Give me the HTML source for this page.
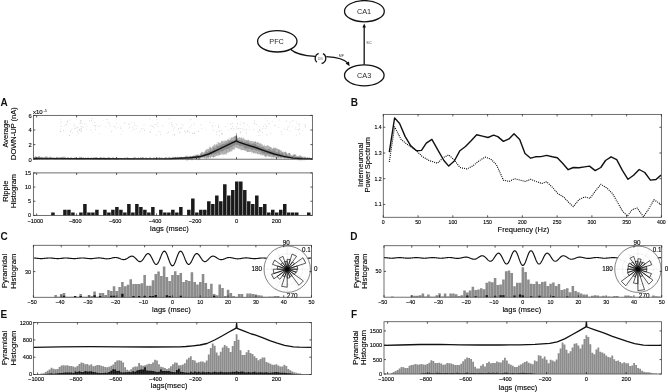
<!DOCTYPE html>
<html><head><meta charset="utf-8"><title>figure</title>
<style>html,body{margin:0;padding:0;background:#fff;width:668px;height:392px;overflow:hidden}svg{display:block;will-change:transform}text{stroke:#000;stroke-width:0.12px}</style>
</head><body>
<svg width="668" height="392" viewBox="0 0 668 392" font-family='"Liberation Sans", sans-serif'>
<rect width="668" height="392" fill="#fff"/>
<g fill="none" stroke="#111" stroke-width="1.3">
<ellipse cx="277.3" cy="41.3" rx="19.7" ry="10.7"/>
<ellipse cx="364.4" cy="11.2" rx="19.9" ry="10.6"/>
<ellipse cx="364.3" cy="75.3" rx="19.8" ry="10.5"/>
<path d="M290.5 49.2 C295 53.5 305 55.8 315.2 56.4"/>
<path d="M318.6 53.4 A5.3 5.3 0 0 0 316.8 62.3"/>
<path d="M322.9 53.6 A5.3 5.3 0 0 1 321.6 63.5"/>
<path d="M326.3 56.6 C336 57.2 344 58.5 348 63.2"/>
<path d="M364.2 64.8 V26.5"/>
</g>
<path d="M364.2 23.6 L362.4 27.6 L366 27.6 Z" fill="#111"/>
<path d="M349.6 66.2 L345.6 63.6 L349.0 61.6 Z" fill="#111"/>
<text x="276.6" y="43.6" font-size="7.3" text-anchor="middle" style="stroke:none" fill="#2a2a2a">PFC</text>
<text x="364.1" y="13.9" font-size="7.3" text-anchor="middle" style="stroke:none" fill="#2a2a2a">CA1</text>
<text x="364.2" y="77.6" font-size="7.3" text-anchor="middle" style="stroke:none" fill="#2a2a2a">CA3</text>
<text x="369" y="44.2" font-size="3.8" text-anchor="middle" style="stroke:none" fill="#444">SC</text>
<text x="341.4" y="57.4" font-size="3.6" text-anchor="middle" style="stroke:none" fill="#444">MF</text>
<text x="320.4" y="59.6" font-size="3.2" text-anchor="middle" style="stroke:none" fill="#555">DG</text>
<text x="0.4" y="106" font-size="10" text-anchor="start" font-weight="bold" style="stroke:none" fill="#111">A</text>
<text x="350.8" y="106.4" font-size="10" text-anchor="start" font-weight="bold" style="stroke:none" fill="#111">B</text>
<text x="0.4" y="240" font-size="10" text-anchor="start" font-weight="bold" style="stroke:none" fill="#111">C</text>
<text x="350.2" y="240.2" font-size="10" text-anchor="start" font-weight="bold" style="stroke:none" fill="#111">D</text>
<text x="0.6" y="318.4" font-size="10" text-anchor="start" font-weight="bold" style="stroke:none" fill="#111">E</text>
<text x="350.9" y="318.3" font-size="10" text-anchor="start" font-weight="bold" style="stroke:none" fill="#111">F</text>
<g>
<rect x="139.66" y="130.81" width="0.8" height="0.8" fill="rgb(192,192,192)"/>
<rect x="262.03" y="132.3" width="0.8" height="0.8" fill="rgb(194,194,194)"/>
<rect x="149.96" y="132" width="0.8" height="0.8" fill="rgb(190,190,190)"/>
<rect x="81.14" y="128.91" width="0.8" height="0.8" fill="rgb(214,214,214)"/>
<rect x="77.18" y="130.98" width="0.8" height="0.8" fill="rgb(224,224,224)"/>
<rect x="90.46" y="129.55" width="0.8" height="0.8" fill="rgb(202,202,202)"/>
<rect x="215.13" y="125.61" width="0.8" height="0.8" fill="rgb(225,225,225)"/>
<rect x="157.58" y="126.2" width="0.8" height="0.8" fill="rgb(202,202,202)"/>
<rect x="71.46" y="129.34" width="0.8" height="0.8" fill="rgb(197,197,197)"/>
<rect x="193.01" y="124.11" width="0.8" height="0.8" fill="rgb(224,224,224)"/>
<rect x="135.89" y="128.15" width="0.8" height="0.8" fill="rgb(225,225,225)"/>
<rect x="200.52" y="124.4" width="0.8" height="0.8" fill="rgb(200,200,200)"/>
<rect x="151.61" y="125.45" width="0.8" height="0.8" fill="rgb(191,191,191)"/>
<rect x="212.28" y="126.52" width="0.8" height="0.8" fill="rgb(219,219,219)"/>
<rect x="227.38" y="123.49" width="0.8" height="0.8" fill="rgb(225,225,225)"/>
<rect x="287.17" y="128.72" width="0.8" height="0.8" fill="rgb(211,211,211)"/>
<rect x="133.74" y="128.92" width="0.8" height="0.8" fill="rgb(203,203,203)"/>
<rect x="80.14" y="120.3" width="0.8" height="0.8" fill="rgb(207,207,207)"/>
<rect x="189.2" y="132.15" width="0.8" height="0.8" fill="rgb(206,206,206)"/>
<rect x="209.8" y="121.86" width="0.8" height="0.8" fill="rgb(192,192,192)"/>
<rect x="89.04" y="120.41" width="0.8" height="0.8" fill="rgb(197,197,197)"/>
<rect x="289.58" y="130.73" width="0.8" height="0.8" fill="rgb(214,214,214)"/>
<rect x="69.64" y="123.24" width="0.8" height="0.8" fill="rgb(224,224,224)"/>
<rect x="254.12" y="120.33" width="0.8" height="0.8" fill="rgb(208,208,208)"/>
<rect x="143.67" y="123.9" width="0.8" height="0.8" fill="rgb(217,217,217)"/>
<rect x="76.92" y="131.26" width="0.8" height="0.8" fill="rgb(193,193,193)"/>
<rect x="292.39" y="120.44" width="0.8" height="0.8" fill="rgb(191,191,191)"/>
<rect x="239.87" y="128.08" width="0.8" height="0.8" fill="rgb(207,207,207)"/>
<rect x="219.19" y="135.35" width="0.8" height="0.8" fill="rgb(206,206,206)"/>
<rect x="236.29" y="126.64" width="0.8" height="0.8" fill="rgb(210,210,210)"/>
<rect x="65.55" y="124.35" width="0.8" height="0.8" fill="rgb(195,195,195)"/>
<rect x="181.45" y="127.65" width="0.8" height="0.8" fill="rgb(201,201,201)"/>
<rect x="248.99" y="129.33" width="0.8" height="0.8" fill="rgb(213,213,213)"/>
<rect x="285.54" y="129.46" width="0.8" height="0.8" fill="rgb(219,219,219)"/>
<rect x="79.82" y="121.6" width="0.8" height="0.8" fill="rgb(196,196,196)"/>
<rect x="261.54" y="128.78" width="0.8" height="0.8" fill="rgb(223,223,223)"/>
<rect x="128.49" y="123.34" width="0.8" height="0.8" fill="rgb(212,212,212)"/>
<rect x="295.6" y="129.15" width="0.8" height="0.8" fill="rgb(197,197,197)"/>
<rect x="80.41" y="130.83" width="0.8" height="0.8" fill="rgb(188,188,188)"/>
<rect x="179.3" y="132.37" width="0.8" height="0.8" fill="rgb(225,225,225)"/>
<rect x="104.86" y="126.5" width="0.8" height="0.8" fill="rgb(222,222,222)"/>
<rect x="150.84" y="129.47" width="0.8" height="0.8" fill="rgb(224,224,224)"/>
<rect x="138.38" y="133.28" width="0.8" height="0.8" fill="rgb(227,227,227)"/>
<rect x="221.12" y="133.32" width="0.8" height="0.8" fill="rgb(191,191,191)"/>
<rect x="172.33" y="134.64" width="0.8" height="0.8" fill="rgb(223,223,223)"/>
<rect x="156.53" y="118.97" width="0.8" height="0.8" fill="rgb(213,213,213)"/>
<rect x="156.95" y="122.48" width="0.8" height="0.8" fill="rgb(200,200,200)"/>
<rect x="76.57" y="127.53" width="0.8" height="0.8" fill="rgb(201,201,201)"/>
<rect x="168.39" y="131.7" width="0.8" height="0.8" fill="rgb(194,194,194)"/>
<rect x="60.06" y="130.88" width="0.8" height="0.8" fill="rgb(197,197,197)"/>
<rect x="192.01" y="132.89" width="0.8" height="0.8" fill="rgb(192,192,192)"/>
<rect x="275.09" y="125.04" width="0.8" height="0.8" fill="rgb(227,227,227)"/>
<rect x="152.55" y="119.55" width="0.8" height="0.8" fill="rgb(226,226,226)"/>
<rect x="149.58" y="118.61" width="0.8" height="0.8" fill="rgb(195,195,195)"/>
<rect x="178.18" y="127.93" width="0.8" height="0.8" fill="rgb(207,207,207)"/>
<rect x="81.13" y="130.3" width="0.8" height="0.8" fill="rgb(204,204,204)"/>
<rect x="177.74" y="129.47" width="0.8" height="0.8" fill="rgb(198,198,198)"/>
<rect x="187.02" y="130.08" width="0.8" height="0.8" fill="rgb(211,211,211)"/>
<rect x="193.62" y="132.44" width="0.8" height="0.8" fill="rgb(193,193,193)"/>
<rect x="231.26" y="127.93" width="0.8" height="0.8" fill="rgb(204,204,204)"/>
<rect x="187.53" y="130.54" width="0.8" height="0.8" fill="rgb(202,202,202)"/>
<rect x="191.02" y="124.7" width="0.8" height="0.8" fill="rgb(220,220,220)"/>
<rect x="141.1" y="128.39" width="0.8" height="0.8" fill="rgb(200,200,200)"/>
<rect x="258.3" y="135.1" width="0.8" height="0.8" fill="rgb(213,213,213)"/>
<rect x="242.01" y="127.79" width="0.8" height="0.8" fill="rgb(210,210,210)"/>
<rect x="239.83" y="132.38" width="0.8" height="0.8" fill="rgb(189,189,189)"/>
<rect x="254.37" y="124.09" width="0.8" height="0.8" fill="rgb(226,226,226)"/>
<rect x="295.3" y="127.51" width="0.8" height="0.8" fill="rgb(216,216,216)"/>
<rect x="258.91" y="126.3" width="0.8" height="0.8" fill="rgb(211,211,211)"/>
<rect x="79.81" y="122.89" width="0.8" height="0.8" fill="rgb(194,194,194)"/>
<rect x="115.8" y="128" width="0.8" height="0.8" fill="rgb(227,227,227)"/>
<rect x="302.37" y="129.87" width="0.8" height="0.8" fill="rgb(227,227,227)"/>
<rect x="266.75" y="120.51" width="0.8" height="0.8" fill="rgb(193,193,193)"/>
<rect x="265.32" y="127.84" width="0.8" height="0.8" fill="rgb(195,195,195)"/>
<rect x="283.81" y="128.51" width="0.8" height="0.8" fill="rgb(218,218,218)"/>
<rect x="278.7" y="119.66" width="0.8" height="0.8" fill="rgb(215,215,215)"/>
<rect x="254.13" y="122.99" width="0.8" height="0.8" fill="rgb(213,213,213)"/>
<rect x="173.94" y="134.02" width="0.8" height="0.8" fill="rgb(193,193,193)"/>
<rect x="238.3" y="128.13" width="0.8" height="0.8" fill="rgb(197,197,197)"/>
<rect x="205.34" y="129.06" width="0.8" height="0.8" fill="rgb(217,217,217)"/>
<rect x="258.4" y="132.11" width="0.8" height="0.8" fill="rgb(218,218,218)"/>
<rect x="221.69" y="133.69" width="0.8" height="0.8" fill="rgb(210,210,210)"/>
<rect x="98.35" y="126.11" width="0.8" height="0.8" fill="rgb(194,194,194)"/>
<rect x="189.54" y="126.72" width="0.8" height="0.8" fill="rgb(196,196,196)"/>
<rect x="166.72" y="132.83" width="0.8" height="0.8" fill="rgb(201,201,201)"/>
<rect x="66.89" y="120.93" width="0.8" height="0.8" fill="rgb(201,201,201)"/>
<rect x="132.07" y="127.36" width="0.8" height="0.8" fill="rgb(204,204,204)"/>
<rect x="193.91" y="132.97" width="0.8" height="0.8" fill="rgb(196,196,196)"/>
<rect x="74.98" y="126.39" width="0.8" height="0.8" fill="rgb(225,225,225)"/>
<rect x="187.12" y="131.3" width="0.8" height="0.8" fill="rgb(196,196,196)"/>
<rect x="190.83" y="118.83" width="0.8" height="0.8" fill="rgb(221,221,221)"/>
<rect x="185.59" y="132.43" width="0.8" height="0.8" fill="rgb(226,226,226)"/>
<rect x="60.97" y="121.42" width="0.8" height="0.8" fill="rgb(197,197,197)"/>
<rect x="102.4" y="119.87" width="0.8" height="0.8" fill="rgb(223,223,223)"/>
<rect x="75.19" y="128.2" width="0.8" height="0.8" fill="rgb(221,221,221)"/>
<rect x="190.56" y="119.26" width="0.8" height="0.8" fill="rgb(223,223,223)"/>
<rect x="73.98" y="127.86" width="0.8" height="0.8" fill="rgb(200,200,200)"/>
<rect x="128.12" y="127.75" width="0.8" height="0.8" fill="rgb(223,223,223)"/>
<rect x="66.85" y="121.69" width="0.8" height="0.8" fill="rgb(192,192,192)"/>
<rect x="169.04" y="122.94" width="0.8" height="0.8" fill="rgb(220,220,220)"/>
<rect x="109.05" y="123.53" width="0.8" height="0.8" fill="rgb(205,205,205)"/>
<rect x="171.28" y="121.98" width="0.8" height="0.8" fill="rgb(203,203,203)"/>
<rect x="232.01" y="125.93" width="0.8" height="0.8" fill="rgb(204,204,204)"/>
<rect x="287" y="129.37" width="0.8" height="0.8" fill="rgb(216,216,216)"/>
<rect x="93.74" y="125.11" width="0.8" height="0.8" fill="rgb(195,195,195)"/>
<rect x="156.52" y="124.3" width="0.8" height="0.8" fill="rgb(215,215,215)"/>
<rect x="77.99" y="133.14" width="0.8" height="0.8" fill="rgb(207,207,207)"/>
<rect x="252.85" y="129.08" width="0.8" height="0.8" fill="rgb(211,211,211)"/>
<rect x="95.17" y="125.43" width="0.8" height="0.8" fill="rgb(196,196,196)"/>
<rect x="298.02" y="129.11" width="0.8" height="0.8" fill="rgb(213,213,213)"/>
<rect x="100.05" y="125.42" width="0.8" height="0.8" fill="rgb(215,215,215)"/>
<rect x="304.54" y="124.21" width="0.8" height="0.8" fill="rgb(213,213,213)"/>
<rect x="143.42" y="128.32" width="0.8" height="0.8" fill="rgb(211,211,211)"/>
<rect x="64.79" y="130.71" width="0.8" height="0.8" fill="rgb(223,223,223)"/>
<rect x="172.83" y="125.71" width="0.8" height="0.8" fill="rgb(221,221,221)"/>
<rect x="213.49" y="122.76" width="0.8" height="0.8" fill="rgb(220,220,220)"/>
<rect x="296.35" y="134.65" width="0.8" height="0.8" fill="rgb(202,202,202)"/>
<rect x="299.04" y="133.56" width="0.8" height="0.8" fill="rgb(194,194,194)"/>
<rect x="80.68" y="125.66" width="0.8" height="0.8" fill="rgb(199,199,199)"/>
<rect x="91.87" y="118.25" width="0.8" height="0.8" fill="rgb(204,204,204)"/>
<rect x="159.86" y="131.65" width="0.8" height="0.8" fill="rgb(222,222,222)"/>
<rect x="286.12" y="120.69" width="0.8" height="0.8" fill="rgb(193,193,193)"/>
<rect x="128.65" y="124" width="0.8" height="0.8" fill="rgb(199,199,199)"/>
<rect x="216.07" y="131.67" width="0.8" height="0.8" fill="rgb(204,204,204)"/>
<rect x="80.6" y="128.03" width="0.8" height="0.8" fill="rgb(195,195,195)"/>
<rect x="171.63" y="125.69" width="0.8" height="0.8" fill="rgb(209,209,209)"/>
<rect x="304.6" y="118.3" width="0.8" height="0.8" fill="rgb(227,227,227)"/>
<rect x="91.79" y="131.94" width="0.8" height="0.8" fill="rgb(221,221,221)"/>
<rect x="124.43" y="122.5" width="0.8" height="0.8" fill="rgb(199,199,199)"/>
<rect x="109.63" y="125.54" width="0.8" height="0.8" fill="rgb(201,201,201)"/>
<rect x="131.33" y="130.55" width="0.8" height="0.8" fill="rgb(220,220,220)"/>
<rect x="225.35" y="125.96" width="0.8" height="0.8" fill="rgb(204,204,204)"/>
<rect x="69.09" y="135.05" width="0.8" height="0.8" fill="rgb(189,189,189)"/>
<rect x="240.34" y="124.23" width="0.8" height="0.8" fill="rgb(218,218,218)"/>
<rect x="120.44" y="126.08" width="0.8" height="0.8" fill="rgb(216,216,216)"/>
<rect x="86.15" y="129.01" width="0.8" height="0.8" fill="rgb(219,219,219)"/>
<rect x="194.29" y="122.65" width="0.8" height="0.8" fill="rgb(213,213,213)"/>
<rect x="298.7" y="125.89" width="0.8" height="0.8" fill="rgb(202,202,202)"/>
<rect x="144.31" y="129.93" width="0.8" height="0.8" fill="rgb(228,228,228)"/>
<rect x="265.9" y="126.15" width="0.8" height="0.8" fill="rgb(188,188,188)"/>
<rect x="77.4" y="126.8" width="0.8" height="0.8" fill="rgb(198,198,198)"/>
<rect x="73.63" y="123.55" width="0.8" height="0.8" fill="rgb(212,212,212)"/>
<rect x="274.15" y="125.25" width="0.8" height="0.8" fill="rgb(203,203,203)"/>
<rect x="230.4" y="123.78" width="0.8" height="0.8" fill="rgb(190,190,190)"/>
<rect x="173.03" y="129.68" width="0.8" height="0.8" fill="rgb(204,204,204)"/>
<rect x="149.58" y="131.09" width="0.8" height="0.8" fill="rgb(209,209,209)"/>
<rect x="299.27" y="123.78" width="0.8" height="0.8" fill="rgb(207,207,207)"/>
<rect x="113.6" y="126.02" width="0.8" height="0.8" fill="rgb(199,199,199)"/>
<rect x="60.26" y="123.24" width="0.8" height="0.8" fill="rgb(220,220,220)"/>
<rect x="221.38" y="130.46" width="0.8" height="0.8" fill="rgb(203,203,203)"/>
<rect x="184.16" y="130.52" width="0.8" height="0.8" fill="rgb(193,193,193)"/>
<rect x="95.39" y="127.11" width="0.8" height="0.8" fill="rgb(225,225,225)"/>
<rect x="70.25" y="130.79" width="0.8" height="0.8" fill="rgb(202,202,202)"/>
<rect x="80.78" y="127.54" width="0.8" height="0.8" fill="rgb(221,221,221)"/>
<rect x="269.9" y="132.33" width="0.8" height="0.8" fill="rgb(226,226,226)"/>
<rect x="155.82" y="134.87" width="0.8" height="0.8" fill="rgb(208,208,208)"/>
<rect x="237.29" y="123.32" width="0.8" height="0.8" fill="rgb(227,227,227)"/>
<rect x="218.23" y="127.13" width="0.8" height="0.8" fill="rgb(190,190,190)"/>
<rect x="262.91" y="125.82" width="0.8" height="0.8" fill="rgb(215,215,215)"/>
<rect x="240.53" y="121.73" width="0.8" height="0.8" fill="rgb(220,220,220)"/>
<rect x="94.27" y="121.73" width="0.8" height="0.8" fill="rgb(189,189,189)"/>
<rect x="263.3" y="126.21" width="0.8" height="0.8" fill="rgb(225,225,225)"/>
<rect x="256.3" y="124.28" width="0.8" height="0.8" fill="rgb(202,202,202)"/>
<rect x="70.3" y="119.58" width="0.8" height="0.8" fill="rgb(212,212,212)"/>
<rect x="265.61" y="118.35" width="0.8" height="0.8" fill="rgb(223,223,223)"/>
<rect x="72.49" y="132.5" width="0.8" height="0.8" fill="rgb(203,203,203)"/>
<rect x="180.37" y="127.65" width="0.8" height="0.8" fill="rgb(188,188,188)"/>
<rect x="280.87" y="131.46" width="0.8" height="0.8" fill="rgb(193,193,193)"/>
<rect x="222.19" y="133.73" width="0.8" height="0.8" fill="rgb(204,204,204)"/>
<rect x="259.07" y="129.96" width="0.8" height="0.8" fill="rgb(204,204,204)"/>
<rect x="117.76" y="127.13" width="0.8" height="0.8" fill="rgb(217,217,217)"/>
<rect x="181.51" y="123.74" width="0.8" height="0.8" fill="rgb(212,212,212)"/>
<rect x="78.88" y="130.13" width="0.8" height="0.8" fill="rgb(190,190,190)"/>
<rect x="211.78" y="125.02" width="0.8" height="0.8" fill="rgb(200,200,200)"/>
<rect x="79.06" y="129.07" width="0.8" height="0.8" fill="rgb(207,207,207)"/>
<rect x="212.8" y="129.75" width="0.8" height="0.8" fill="rgb(196,196,196)"/>
<rect x="63.07" y="130.31" width="0.8" height="0.8" fill="rgb(194,194,194)"/>
<rect x="230.28" y="128.32" width="0.8" height="0.8" fill="rgb(219,219,219)"/>
<rect x="131.55" y="122" width="0.8" height="0.8" fill="rgb(217,217,217)"/>
<rect x="248.72" y="126.48" width="0.8" height="0.8" fill="rgb(223,223,223)"/>
<rect x="64.31" y="125.55" width="0.8" height="0.8" fill="rgb(217,217,217)"/>
<rect x="304.52" y="126.4" width="0.8" height="0.8" fill="rgb(212,212,212)"/>
<rect x="111.62" y="129.92" width="0.8" height="0.8" fill="rgb(225,225,225)"/>
<rect x="82.21" y="125.96" width="0.8" height="0.8" fill="rgb(221,221,221)"/>
<rect x="124.41" y="123.11" width="0.8" height="0.8" fill="rgb(228,228,228)"/>
<rect x="185.15" y="131.73" width="0.8" height="0.8" fill="rgb(195,195,195)"/>
<rect x="233.02" y="128.12" width="0.8" height="0.8" fill="rgb(219,219,219)"/>
<rect x="99.13" y="133.47" width="0.8" height="0.8" fill="rgb(213,213,213)"/>
<rect x="134.28" y="124.89" width="0.8" height="0.8" fill="rgb(197,197,197)"/>
<rect x="162.38" y="125.37" width="0.8" height="0.8" fill="rgb(209,209,209)"/>
<rect x="60.43" y="128.6" width="0.8" height="0.8" fill="rgb(209,209,209)"/>
<rect x="266.42" y="134.49" width="0.8" height="0.8" fill="rgb(188,188,188)"/>
<rect x="281.79" y="134.04" width="0.8" height="0.8" fill="rgb(206,206,206)"/>
<rect x="122.29" y="131.11" width="0.8" height="0.8" fill="rgb(225,225,225)"/>
<rect x="78.79" y="128.78" width="0.8" height="0.8" fill="rgb(215,215,215)"/>
<rect x="245.89" y="129.23" width="0.8" height="0.8" fill="rgb(191,191,191)"/>
<rect x="265.33" y="124.1" width="0.8" height="0.8" fill="rgb(206,206,206)"/>
<rect x="216.2" y="134.11" width="0.8" height="0.8" fill="rgb(215,215,215)"/>
<rect x="106.7" y="119.13" width="0.8" height="0.8" fill="rgb(189,189,189)"/>
<rect x="259.74" y="135.04" width="0.8" height="0.8" fill="rgb(228,228,228)"/>
<rect x="158.41" y="131.06" width="0.8" height="0.8" fill="rgb(201,201,201)"/>
<rect x="237.01" y="122.97" width="0.8" height="0.8" fill="rgb(191,191,191)"/>
<rect x="289.63" y="121.73" width="0.8" height="0.8" fill="rgb(196,196,196)"/>
<rect x="218.54" y="130.3" width="0.8" height="0.8" fill="rgb(206,206,206)"/>
<rect x="179.45" y="131.84" width="0.8" height="0.8" fill="rgb(198,198,198)"/>
<rect x="176.16" y="124.01" width="0.8" height="0.8" fill="rgb(209,209,209)"/>
<rect x="129.31" y="126.73" width="0.8" height="0.8" fill="rgb(204,204,204)"/>
<rect x="159.93" y="134.37" width="0.8" height="0.8" fill="rgb(203,203,203)"/>
<rect x="134.01" y="122.78" width="0.8" height="0.8" fill="rgb(198,198,198)"/>
<rect x="218.23" y="125.41" width="0.8" height="0.8" fill="rgb(192,192,192)"/>
<rect x="111.14" y="131.38" width="0.8" height="0.8" fill="rgb(202,202,202)"/>
<rect x="171.43" y="124.06" width="0.8" height="0.8" fill="rgb(209,209,209)"/>
<rect x="305.13" y="124.65" width="0.8" height="0.8" fill="rgb(200,200,200)"/>
<rect x="120.05" y="127.76" width="0.8" height="0.8" fill="rgb(199,199,199)"/>
<rect x="144.12" y="129.8" width="0.8" height="0.8" fill="rgb(204,204,204)"/>
<rect x="259.1" y="128.8" width="0.8" height="0.8" fill="rgb(200,200,200)"/>
<rect x="278.26" y="126.99" width="0.8" height="0.8" fill="rgb(214,214,214)"/>
<rect x="243.48" y="122.36" width="0.8" height="0.8" fill="rgb(201,201,201)"/>
<rect x="152.71" y="126.15" width="0.8" height="0.8" fill="rgb(205,205,205)"/>
<rect x="201.27" y="128.37" width="0.8" height="0.8" fill="rgb(211,211,211)"/>
<rect x="90.96" y="120.66" width="0.8" height="0.8" fill="rgb(201,201,201)"/>
<rect x="82.78" y="126.86" width="0.8" height="0.8" fill="rgb(203,203,203)"/>
<rect x="154.6" y="124.09" width="0.8" height="0.8" fill="rgb(207,207,207)"/>
<rect x="268.78" y="123.2" width="0.8" height="0.8" fill="rgb(189,189,189)"/>
<rect x="91.3" y="120.19" width="0.8" height="0.8" fill="rgb(218,218,218)"/>
<rect x="298.2" y="130.46" width="0.8" height="0.8" fill="rgb(219,219,219)"/>
<rect x="60.04" y="119.01" width="0.8" height="0.8" fill="rgb(221,221,221)"/>
<rect x="270.44" y="133.48" width="0.8" height="0.8" fill="rgb(216,216,216)"/>
<rect x="121.12" y="129.02" width="0.8" height="0.8" fill="rgb(221,221,221)"/>
<rect x="299.08" y="128.65" width="0.8" height="0.8" fill="rgb(194,194,194)"/>
<rect x="291.61" y="125.85" width="0.8" height="0.8" fill="rgb(217,217,217)"/>
<rect x="80.91" y="120.61" width="0.8" height="0.8" fill="rgb(190,190,190)"/>
<rect x="60.34" y="131.11" width="0.8" height="0.8" fill="rgb(190,190,190)"/>
<rect x="218.79" y="131.15" width="0.8" height="0.8" fill="rgb(207,207,207)"/>
<rect x="296.76" y="123.14" width="0.8" height="0.8" fill="rgb(215,215,215)"/>
<rect x="231.85" y="123.06" width="0.8" height="0.8" fill="rgb(195,195,195)"/>
<rect x="84.46" y="123.64" width="0.8" height="0.8" fill="rgb(200,200,200)"/>
<rect x="115" y="126.47" width="0.8" height="0.8" fill="rgb(207,207,207)"/>
<rect x="305.11" y="126.61" width="0.8" height="0.8" fill="rgb(205,205,205)"/>
<rect x="295.9" y="121.26" width="0.8" height="0.8" fill="rgb(218,218,218)"/>
<rect x="189.46" y="119.64" width="0.8" height="0.8" fill="rgb(223,223,223)"/>
<rect x="120.78" y="133.81" width="0.8" height="0.8" fill="rgb(207,207,207)"/>
<rect x="73.61" y="125.28" width="0.8" height="0.8" fill="rgb(200,200,200)"/>
<rect x="182.58" y="124.85" width="0.8" height="0.8" fill="rgb(204,204,204)"/>
<rect x="116.05" y="122.82" width="0.8" height="0.8" fill="rgb(215,215,215)"/>
<rect x="287.59" y="127.17" width="0.8" height="0.8" fill="rgb(209,209,209)"/>
<rect x="236.71" y="128.17" width="0.8" height="0.8" fill="rgb(211,211,211)"/>
<rect x="227.91" y="129.58" width="0.8" height="0.8" fill="rgb(220,220,220)"/>
<rect x="76.59" y="134.61" width="0.8" height="0.8" fill="rgb(219,219,219)"/>
<rect x="298.59" y="123.85" width="0.8" height="0.8" fill="rgb(202,202,202)"/>
<rect x="174.42" y="134.71" width="0.8" height="0.8" fill="rgb(204,204,204)"/>
<rect x="247.08" y="123.91" width="0.8" height="0.8" fill="rgb(219,219,219)"/>
<rect x="73.88" y="127.93" width="0.8" height="0.8" fill="rgb(226,226,226)"/>
<rect x="96.01" y="124.56" width="0.8" height="0.8" fill="rgb(226,226,226)"/>
<rect x="94.91" y="128.93" width="0.8" height="0.8" fill="rgb(191,191,191)"/>
<rect x="234.63" y="128.98" width="0.8" height="0.8" fill="rgb(208,208,208)"/>
<rect x="240.25" y="131.5" width="0.8" height="0.8" fill="rgb(193,193,193)"/>
<rect x="289.17" y="125.62" width="0.8" height="0.8" fill="rgb(221,221,221)"/>
<rect x="243.59" y="129.53" width="0.8" height="0.8" fill="rgb(190,190,190)"/>
<rect x="136.71" y="125.67" width="0.8" height="0.8" fill="rgb(209,209,209)"/>
<rect x="168.84" y="118.5" width="0.8" height="0.8" fill="rgb(194,194,194)"/>
<rect x="60.71" y="126.22" width="0.8" height="0.8" fill="rgb(195,195,195)"/>
<rect x="198.04" y="131.11" width="0.8" height="0.8" fill="rgb(201,201,201)"/>
<rect x="153.51" y="127.45" width="0.8" height="0.8" fill="rgb(215,215,215)"/>
<rect x="81.59" y="123.16" width="0.8" height="0.8" fill="rgb(218,218,218)"/>
<rect x="108.15" y="122.27" width="0.8" height="0.8" fill="rgb(208,208,208)"/>
<rect x="149.61" y="125.74" width="0.8" height="0.8" fill="rgb(218,218,218)"/>
<rect x="67.45" y="120.03" width="0.8" height="0.8" fill="rgb(213,213,213)"/>
<rect x="70" y="131.37" width="0.8" height="0.8" fill="rgb(190,190,190)"/>
<rect x="174.16" y="127.53" width="0.8" height="0.8" fill="rgb(200,200,200)"/>
<rect x="243.83" y="125.48" width="0.8" height="0.8" fill="rgb(226,226,226)"/>
<rect x="143.41" y="125.42" width="0.8" height="0.8" fill="rgb(227,227,227)"/>
<rect x="243.62" y="123.21" width="0.8" height="0.8" fill="rgb(207,207,207)"/>
<rect x="245.89" y="132.52" width="0.8" height="0.8" fill="rgb(192,192,192)"/>
<rect x="65.97" y="123.8" width="0.8" height="0.8" fill="rgb(202,202,202)"/>
<rect x="86.39" y="125.92" width="0.8" height="0.8" fill="rgb(212,212,212)"/>
<rect x="254.29" y="122.08" width="0.8" height="0.8" fill="rgb(215,215,215)"/>
<rect x="260.44" y="130.54" width="0.8" height="0.8" fill="rgb(188,188,188)"/>
<rect x="257.43" y="130.9" width="0.8" height="0.8" fill="rgb(207,207,207)"/>
<rect x="262.4" y="127.88" width="0.8" height="0.8" fill="rgb(208,208,208)"/>
<rect x="271.87" y="120.91" width="0.8" height="0.8" fill="rgb(217,217,217)"/>
</g>
<path d="M33.4 156.67L34.3 157.69L35.2 156.01L36.1 156.31L37 157.65L37.9 156.45L38.8 156.02L39.7 155.96L40.6 157.22L41.5 156.69L42.4 158.27L43.3 158.05L44.2 158.31L45.1 156.59L46 156.16L46.9 156.21L47.8 157.18L48.7 157.7L49.6 157.08L50.5 156.58L51.4 157.03L52.3 157.53L53.2 157.67L54.1 157.86L55 158.11L55.9 157.68L56.8 156.39L57.7 158.13L58.6 156.83L59.5 157.5L60.4 157.04L61.3 157.93L62.2 156.65L63.1 156.78L64 156.78L64.9 156.57L65.8 158.34L66.7 157.62L67.6 157.02L68.5 157.2L69.4 158.65L70.3 157.49L71.2 156.84L72.1 158.24L73 157.88L73.9 158.7L74.8 156.58L75.7 157.48L76.6 158.32L77.5 158.39L78.4 158.57L79.3 156.49L80.2 157.11L81.1 156.7L82 156.87L82.9 158.76L83.8 157.84L84.7 158.68L85.6 157.35L86.5 158.54L87.4 157.55L88.3 157.11L89.2 158.36L90.1 158.77L91 156.76L91.9 157.95L92.8 158.02L93.7 157.06L94.6 157.43L95.5 156.89L96.4 157.05L97.3 157.18L98.2 158.02L99.1 158.15L100 157.09L100.9 156.64L101.8 157.4L102.7 158.25L103.6 157.08L104.5 157.39L105.4 157.14L106.3 158.57L107.2 157.99L108.1 156.83L109 156.93L109.9 157.65L110.8 158.03L111.7 158.25L112.6 156.94L113.5 157.13L114.4 158.41L115.3 157.74L116.2 157.44L117.1 157.51L118 159.07L118.9 157.54L119.8 158.16L120.7 157.65L121.6 157.79L122.5 158.85L123.4 159.16L124.3 157.64L125.2 157.23L126.1 158.5L127 157.23L127.9 156.75L128.8 158.89L129.7 157.74L130.6 158.68L131.5 157.68L132.4 158.82L133.3 157.8L134.2 157.08L135.1 156.71L136 158L136.9 158.2L137.8 158.84L138.7 156.86L139.6 158.14L140.5 157.53L141.4 157.84L142.3 156.97L143.2 157.29L144.1 157.86L145 158.82L145.9 156.85L146.8 157.76L147.7 158.51L148.6 158.89L149.5 157.04L150.4 156.86L151.3 158.81L152.2 158.88L153.1 157.69L154 156.66L154.9 158.74L155.8 157.44L156.7 158.68L157.6 157.99L158.5 158.47L159.4 156.87L160.3 158.36L161.2 157L162.1 157.43L163 158.49L163.9 158.44L164.8 156.88L165.7 156.96L166.6 157.39L167.5 157.66L168.4 157.33L169.3 156.7L170.2 156.98L171.1 158.08L172 158.45L172.9 156.35L173.8 157.56L174.7 157.98L175.6 156.21L176.5 158.09L177.4 156.31L178.3 157.42L179.2 157.26L180.1 157.4L181 156.58L181.9 156.81L182.8 157.16L183.7 156.74L184.6 157.25L185.5 156.7L186.4 156.63L187.3 155.59L188.2 156.98L189.1 156.62L190 155.96L190.9 157.1L191.8 157L192.7 156.1L193.6 155.29L194.5 155.87L195.4 154.85L196.3 154.77L197.2 155.36L198.1 154.41L199 155.12L199.9 154.86L200.8 153.07L201.7 153.85L202.6 151.86L203.5 152.76L204.4 152.21L205.3 150.91L206.2 149.16L207.1 149.58L208 148.62L208.9 149.36L209.8 146.87L210.7 148.07L211.6 147.86L212.5 146.69L213.4 146.36L214.3 144.33L215.2 145.68L216.1 143.97L217 144.55L217.9 143.92L218.8 141.79L219.7 143.01L220.6 143.08L221.5 140.73L222.4 141.15L223.3 141.85L224.2 140.14L225.1 141.64L226 139.88L226.9 140.91L227.8 138.99L228.7 139.51L229.6 140.18L230.5 138.13L231.4 137.92L232.3 138.16L233.2 137.37L234.1 136.36L235 136.37L235.9 135.98L236.8 137.77L237.7 137.43L238.6 138.23L239.5 136.76L240.4 138.52L241.3 137.19L242.2 138.47L243.1 139L244 138.61L244.9 140.12L245.8 139.64L246.7 139.93L247.6 140.87L248.5 139.21L249.4 141.56L250.3 140.89L251.2 140.54L252.1 141.72L253 140.65L253.9 142.6L254.8 141.82L255.7 141.55L256.6 142.88L257.5 142.48L258.4 142.21L259.3 143.94L260.2 142.64L261.1 144.86L262 143.86L262.9 145.16L263.8 146.35L264.7 145.77L265.6 146.23L266.5 145.66L267.4 145.18L268.3 145.52L269.2 146.07L270.1 147.46L271 147.28L271.9 147.75L272.8 148.93L273.7 147.37L274.6 147.9L275.5 149.28L276.4 148.12L277.3 148.43L278.2 149.63L279.1 149.38L280 150.34L280.9 150.38L281.8 151.59L282.7 151.96L283.6 151.39L284.5 152.68L285.4 152.6L286.3 152.07L287.2 154.27L288.1 152.89L289 152.94L289.9 153.09L290.8 154.68L291.7 155.52L292.6 155.58L293.5 154.91L294.4 154.79L295.3 154.39L296.2 156.12L297.1 156.13L298 155.83L298.9 156.75L299.8 156.48L300.7 157.87L301.6 157.6L302.5 156.62L303.4 158.3L304.3 156.34L305.2 157.62L306.1 157.43L307 157.13L307.9 156.81L308.8 158.64L309.7 156.91L310.6 158.31L311.5 159.35L312.4 157.54L312.4 159.73L311.5 158.59L310.6 159.25L309.7 158.83L308.8 159.09L307.9 159.64L307 159.63L306.1 159.33L305.2 158.85L304.3 159.82L303.4 158.62L302.5 159.15L301.6 158.98L300.7 159.23L299.8 159.5L298.9 159.43L298 158.39L297.1 158.5L296.2 158.78L295.3 159.42L294.4 158.47L293.5 158.95L292.6 159.58L291.7 159.21L290.8 158.32L289.9 158.33L289 158.41L288.1 158.91L287.2 158.41L286.3 158.34L285.4 157.64L284.5 158.2L283.6 157.94L282.7 157.49L281.8 157.86L280.9 158.76L280 157.27L279.1 158.19L278.2 157.5L277.3 157.86L276.4 156.99L275.5 158.07L274.6 157.1L273.7 157.17L272.8 157.53L271.9 157.1L271 156.78L270.1 156.98L269.2 156.57L268.3 156.5L267.4 155.62L266.5 156.17L265.6 156.72L264.7 156.32L263.8 155.06L262.9 155.4L262 154.32L261.1 155.55L260.2 154.5L259.3 154.07L258.4 154.42L257.5 153.95L256.6 152.92L255.7 153.85L254.8 153.24L253.9 152.63L253 152.79L252.1 152.34L251.2 152.11L250.3 151.65L249.4 152.07L248.5 152.03L247.6 151.95L246.7 151.19L245.8 150.44L244.9 150.95L244 150.1L243.1 149.98L242.2 149.94L241.3 149.66L240.4 149.59L239.5 149L238.6 148.78L237.7 148.6L236.8 148.01L235.9 147.38L235 148.24L234.1 149.33L233.2 149.61L232.3 149.94L231.4 151.26L230.5 151.56L229.6 151.58L228.7 152.46L227.8 152.28L226.9 153.19L226 153.73L225.1 153.79L224.2 154.37L223.3 154.8L222.4 154.44L221.5 154.13L220.6 154.97L219.7 154.95L218.8 155.06L217.9 156.16L217 155.62L216.1 156.18L215.2 156.83L214.3 157.1L213.4 157.57L212.5 156.79L211.6 156.51L210.7 158.06L209.8 156.85L208.9 158.03L208 158.52L207.1 157.33L206.2 157.63L205.3 157.43L204.4 158.08L203.5 157.84L202.6 157.79L201.7 157.71L200.8 157.78L199.9 158.96L199 158.8L198.1 158.23L197.2 158.13L196.3 158.28L195.4 159.38L194.5 158.78L193.6 158.31L192.7 159.11L191.8 159.49L190.9 159.03L190 158.67L189.1 159.59L188.2 159.46L187.3 159.75L186.4 158.65L185.5 158.92L184.6 158.96L183.7 159.43L182.8 159.6L181.9 159.61L181 159.25L180.1 159.14L179.2 158.77L178.3 159.81L177.4 159.01L176.5 159.2L175.6 159.84L174.7 158.82L173.8 158.73L172.9 158.44L172 159.82L171.1 158.54L170.2 159.82L169.3 159.03L168.4 159.04L167.5 158.97L166.6 159.4L165.7 159.66L164.8 159.52L163.9 159.66L163 158.53L162.1 159.42L161.2 158.58L160.3 159.2L159.4 159.52L158.5 158.74L157.6 158.85L156.7 159.91L155.8 158.82L154.9 159.73L154 158.96L153.1 159.19L152.2 158.7L151.3 159.67L150.4 159.19L149.5 159.19L148.6 158.41L147.7 159.96L146.8 159.62L145.9 158.72L145 158.4L144.1 158.67L143.2 159.71L142.3 158.55L141.4 159.78L140.5 158.75L139.6 159.26L138.7 159.53L137.8 158.95L136.9 159.64L136 159.1L135.1 159.06L134.2 158.45L133.3 159.39L132.4 159.76L131.5 159.21L130.6 159.94L129.7 158.91L128.8 158.99L127.9 159.55L127 158.85L126.1 158.81L125.2 158.43L124.3 159.08L123.4 158.91L122.5 158.73L121.6 159.61L120.7 158.56L119.8 158.56L118.9 158.86L118 159.41L117.1 159.72L116.2 159.41L115.3 159.7L114.4 159.76L113.5 158.46L112.6 158.58L111.7 158.73L110.8 158.57L109.9 159.91L109 159.86L108.1 159.79L107.2 158.51L106.3 159.83L105.4 159.71L104.5 159.71L103.6 158.98L102.7 159.34L101.8 158.51L100.9 159.58L100 159.52L99.1 159.41L98.2 159.51L97.3 158.47L96.4 158.45L95.5 158.63L94.6 158.95L93.7 159.89L92.8 158.57L91.9 158.44L91 158.63L90.1 159.86L89.2 158.52L88.3 159.4L87.4 158.74L86.5 158.89L85.6 159.31L84.7 159.56L83.8 159.1L82.9 159.77L82 159.52L81.1 159.74L80.2 159.15L79.3 159.97L78.4 159.46L77.5 159.51L76.6 159.41L75.7 159.85L74.8 158.78L73.9 158.93L73 159.81L72.1 158.92L71.2 159.59L70.3 159.91L69.4 159.59L68.5 158.78L67.6 158.82L66.7 158.42L65.8 159.81L64.9 158.75L64 159.94L63.1 159.43L62.2 158.82L61.3 159.24L60.4 159.66L59.5 159.1L58.6 159.29L57.7 158.83L56.8 159.54L55.9 159.75L55 159.51L54.1 159.6L53.2 158.94L52.3 158.46L51.4 158.77L50.5 158.57L49.6 158.76L48.7 159.12L47.8 159.59L46.9 159.14L46 159.59L45.1 159.75L44.2 158.41L43.3 159.54L42.4 159.65L41.5 159.82L40.6 158.48L39.7 158.88L38.8 158.9L37.9 158.68L37 159.7L36.1 159.43L35.2 159.21L34.3 159.37L33.4 158.72Z" fill="#b4b4b4"/>
<path d="M33.4 157.52L34.3 158.32L35.2 157.39L36.1 157.58L37 157.39L37.9 157.67L38.8 157.29L39.7 157.01L40.6 158.17L41.5 157.47L42.4 157.42L43.3 157.52L44.2 157.81L45.1 157.74L46 158.08L46.9 158.12L47.8 157.65L48.7 158.57L49.6 158.46L50.5 157.19L51.4 158.43L52.3 158.56L53.2 158.37L54.1 157.35L55 158.47L55.9 158.16L56.8 157.17L57.7 157.18L58.6 158.69L59.5 158.22L60.4 157.58L61.3 157.35L62.2 157.43L63.1 157.58L64 158.45L64.9 157.77L65.8 157.47L66.7 158.68L67.6 158.51L68.5 157.52L69.4 158.68L70.3 158.24L71.2 158.52L72.1 158.35L73 158.72L73.9 158.56L74.8 158.65L75.7 157.63L76.6 158.43L77.5 158.18L78.4 158.52L79.3 158.05L80.2 158.76L81.1 158.25L82 157.79L82.9 157.74L83.8 157.6L84.7 158.17L85.6 157.48L86.5 158.14L87.4 157.63L88.3 158.19L89.2 158.21L90.1 158.28L91 158.81L91.9 157.44L92.8 158.78L93.7 158.19L94.6 158.35L95.5 158.52L96.4 158.81L97.3 158.07L98.2 158.15L99.1 159.02L100 157.61L100.9 158.51L101.8 158.52L102.7 157.55L103.6 158.49L104.5 158.61L105.4 159.02L106.3 158.06L107.2 159.11L108.1 158.36L109 158.32L109.9 158.99L110.8 157.62L111.7 158.72L112.6 158.57L113.5 158.12L114.4 158.97L115.3 158.18L116.2 158.36L117.1 158.45L118 158.84L118.9 157.95L119.8 158.32L120.7 158.3L121.6 158.5L122.5 158.94L123.4 158.08L124.3 158.93L125.2 158.25L126.1 158.4L127 158.03L127.9 158.4L128.8 159.15L129.7 158.63L130.6 158.84L131.5 158.1L132.4 158.08L133.3 158.04L134.2 158.5L135.1 158.57L136 158.81L136.9 157.61L137.8 158.7L138.7 158.96L139.6 158.41L140.5 157.61L141.4 158.01L142.3 157.53L143.2 157.82L144.1 158.99L145 158.49L145.9 158.56L146.8 158.77L147.7 158.96L148.6 158.48L149.5 158.48L150.4 158.49L151.3 158.6L152.2 158.43L153.1 158.57L154 157.81L154.9 158.54L155.8 158.2L156.7 158.68L157.6 157.62L158.5 157.74L159.4 157.51L160.3 158.68L161.2 158.9L162.1 158.48L163 158.02L163.9 158.74L164.8 158.68L165.7 158.32L166.6 157.83L167.5 157.89L168.4 158.08L169.3 157.91L170.2 158.08L171.1 158.37L172 158.79L172.9 157.34L173.8 158.11L174.7 157.22L175.6 157.3L176.5 158.36L177.4 157.93L178.3 158.43L179.2 157.63L180.1 156.89L181 157.44L181.9 157.72L182.8 158.23L183.7 158.25L184.6 157.39L185.5 157.25L186.4 156.7L187.3 157.52L188.2 156.78L189.1 156.64L190 156.37L190.9 156.25L191.8 157.22L192.7 156.21L193.6 157.46L194.5 155.94L195.4 157.08L196.3 155.79L197.2 155.5L198.1 156.51L199 155.64L199.9 156.12L200.8 154.78L201.7 154.09L202.6 154.79L203.5 154.23L204.4 153.99L205.3 153.32L206.2 151.83L207.1 152.23L208 151.9L208.9 151.03L209.8 151.31L210.7 149.75L211.6 150.42L212.5 149.55L213.4 147.94L214.3 147.47L215.2 148.02L216.1 147.81L217 146.16L217.9 146.05L218.8 146.34L219.7 145.09L220.6 145.85L221.5 144.89L222.4 143.86L223.3 144L224.2 143.98L225.1 143.4L226 143.43L226.9 142.23L227.8 142.9L228.7 141.83L229.6 141.89L230.5 141.48L231.4 140.76L232.3 140.32L233.2 140.58L234.1 140.45L235 139.8L235.9 139.07L236.8 138.56L237.7 138.5L238.6 140.27L239.5 140.15L240.4 140.66L241.3 140.17L242.2 140.92L243.1 141.83L244 141.9L244.9 141.85L245.8 141.69L246.7 142.15L247.6 143.13L248.5 142.55L249.4 143.29L250.3 143.4L251.2 144.12L252.1 144.22L253 143.63L253.9 143.42L254.8 144.08L255.7 144.6L256.6 145.21L257.5 145.92L258.4 146.38L259.3 145.37L260.2 146.98L261.1 147.29L262 147.72L262.9 147.59L263.8 147.46L264.7 148.72L265.6 148.95L266.5 149.04L267.4 149.69L268.3 149.07L269.2 148.94L270.1 149.98L271 150.65L271.9 149.99L272.8 151.15L273.7 151.73L274.6 150.9L275.5 151.79L276.4 152.2L277.3 152.15L278.2 152.03L279.1 152.4L280 153.48L280.9 153.84L281.8 153.6L282.7 153.3L283.6 154.74L284.5 154.91L285.4 154.27L286.3 155.05L287.2 155.78L288.1 155.98L289 155.62L289.9 155.77L290.8 156.17L291.7 155.76L292.6 155.98L293.5 156.13L294.4 157.1L295.3 156.69L296.2 157.14L297.1 157.02L298 157.34L298.9 156.88L299.8 156.85L300.7 158.51L301.6 157.64L302.5 157.33L303.4 158.24L304.3 158.55L305.2 157.6L306.1 158.37L307 158.03L307.9 158.37L308.8 157.63L309.7 157.72L310.6 159.31L311.5 159.17L312.4 158.63L312.4 159.48L311.5 158.85L310.6 158.41L309.7 159.08L308.8 158.81L307.9 158.94L307 158.56L306.1 158.56L305.2 158.62L304.3 158.78L303.4 158.93L302.5 158.83L301.6 158.7L300.7 158.97L299.8 158.34L298.9 158.85L298 158.73L297.1 158.75L296.2 159L295.3 158.62L294.4 158.05L293.5 158.21L292.6 158.21L291.7 158.24L290.8 157.99L289.9 157.69L289 157.57L288.1 157.48L287.2 157.84L286.3 157.64L285.4 157.29L284.5 157.48L283.6 157.9L282.7 157.3L281.8 156.56L280.9 157.02L280 156.45L279.1 156.26L278.2 156.89L277.3 156.1L276.4 156.03L275.5 155.54L274.6 155.82L273.7 155.99L272.8 155.32L271.9 154.78L271 155.05L270.1 154.34L269.2 154.57L268.3 153.63L267.4 154.43L266.5 154.22L265.6 153.91L264.7 153.48L263.8 153.55L262.9 153.06L262 153L261.1 151.7L260.2 151.27L259.3 151.55L258.4 151.17L257.5 150.44L256.6 150.7L255.7 150.2L254.8 150.28L253.9 149.8L253 149.36L252.1 149.95L251.2 149.75L250.3 148.99L249.4 148.21L248.5 148.93L247.6 148.66L246.7 148.55L245.8 148.15L244.9 148.02L244 147.02L243.1 146.56L242.2 146.1L241.3 145.88L240.4 146.06L239.5 145.91L238.6 144.91L237.7 144.73L236.8 144.76L235.9 144.38L235 144.84L234.1 145.99L233.2 146.35L232.3 146.05L231.4 147.25L230.5 147.53L229.6 147.52L228.7 148.87L227.8 149.04L226.9 148.91L226 149.59L225.1 149.6L224.2 150.14L223.3 150.76L222.4 151.1L221.5 151.01L220.6 151.27L219.7 152.43L218.8 152.97L217.9 152.39L217 153.4L216.1 153.48L215.2 153.83L214.3 154.15L213.4 153.75L212.5 154.25L211.6 155.15L210.7 154.72L209.8 154.93L208.9 156.17L208 155.65L207.1 155.6L206.2 155.82L205.3 155.99L204.4 157.01L203.5 156L202.6 156.74L201.7 156.86L200.8 156.96L199.9 157.07L199 157.74L198.1 157.77L197.2 156.92L196.3 157.88L195.4 157.56L194.5 158.08L193.6 157.73L192.7 158.51L191.8 158.58L190.9 158.58L190 157.99L189.1 158.47L188.2 158.39L187.3 158.48L186.4 157.86L185.5 158.58L184.6 158.31L183.7 158.06L182.8 158.31L181.9 158.87L181 158.1L180.1 158.19L179.2 158.92L178.3 158.45L177.4 158.97L176.5 157.9L175.6 158.48L174.7 158.93L173.8 158.9L172.9 158.3L172 158.87L171.1 157.96L170.2 158.77L169.3 158.39L168.4 158.78L167.5 157.99L166.6 158.15L165.7 158.61L164.8 158.89L163.9 158.77L163 158.65L162.1 158.17L161.2 158.25L160.3 158.52L159.4 158.66L158.5 158.04L157.6 158.03L156.7 158.17L155.8 158.79L154.9 158.86L154 158.16L153.1 158.11L152.2 158.63L151.3 158.21L150.4 159.05L149.5 158.48L148.6 158.18L147.7 158.59L146.8 158.96L145.9 157.96L145 158.13L144.1 158.38L143.2 158.94L142.3 157.99L141.4 159.15L140.5 158.33L139.6 158.85L138.7 158.05L137.8 159.06L136.9 158.33L136 158.11L135.1 159.1L134.2 159.19L133.3 159.18L132.4 158.43L131.5 158.24L130.6 158.31L129.7 158.35L128.8 158.58L127.9 158.26L127 158.81L126.1 159.09L125.2 158.08L124.3 159.19L123.4 158.16L122.5 159.11L121.6 158.41L120.7 158.62L119.8 158.23L118.9 158.43L118 159.04L117.1 158.36L116.2 158.23L115.3 158.53L114.4 158.36L113.5 159.09L112.6 158.22L111.7 158.71L110.8 158.91L109.9 158.12L109 158.32L108.1 158.23L107.2 158.82L106.3 158.64L105.4 159.05L104.5 158.48L103.6 158.61L102.7 158.83L101.8 159.09L100.9 159.19L100 158.2L99.1 158.62L98.2 158.25L97.3 159.15L96.4 159.13L95.5 159.21L94.6 158.36L93.7 159.21L92.8 158.14L91.9 158.33L91 158.96L90.1 158.12L89.2 158.92L88.3 158.28L87.4 158.4L86.5 158.32L85.6 158.69L84.7 158.27L83.8 158.43L82.9 158.51L82 158.25L81.1 159.04L80.2 158.84L79.3 158.49L78.4 158.95L77.5 159.26L76.6 159.05L75.7 158.32L74.8 158.21L73.9 159.33L73 158.92L72.1 159L71.2 159.1L70.3 158.21L69.4 159.16L68.5 159.25L67.6 159.25L66.7 158.59L65.8 158.47L64.9 158.22L64 158.44L63.1 159.36L62.2 159.34L61.3 158.37L60.4 158.72L59.5 158.66L58.6 158.99L57.7 159.34L56.8 158.96L55.9 158.87L55 158.5L54.1 159.35L53.2 158.34L52.3 158.68L51.4 158.92L50.5 158.28L49.6 159.3L48.7 159.35L47.8 158.76L46.9 159.26L46 158.89L45.1 158.28L44.2 158.32L43.3 158.44L42.4 158.47L41.5 158.27L40.6 158.54L39.7 159.39L38.8 159.22L37.9 159.16L37 159.38L36.1 158.75L35.2 159.18L34.3 158.56L33.4 158.93Z" fill="#8e8e8e"/>
<path d="M214.82 150.64l-0.01 1.2M221.94 151.42l-0.41 0.89M293.91 156.02l-0.53 1.34M239.99 145.52l-0.47 1.12M304.91 158.28l-0.41 1.27M229.06 147.46l0.14 1.99M287.65 155.33l0.29 1.84M279.96 153.31l0.34 1.79M299.34 155.51l0.44 0.81M280.71 154.44l-0 2.15M256.49 146.01l0.34 2.02M260.92 147.15l-0.06 1.44M275.38 150.29l-0.13 1.58M233.06 140.62l0.34 1.99M247.44 144.21l-0.38 1.23M203.12 155.1l0.1 0.92M300.02 156.41l0.41 1.97M304.85 156.63l-0.09 2.07M186.34 155.47l0.08 1.5M300.04 158.14l0.05 2.2M249.68 145.66l0.22 1.35M229.71 145.97l-0.18 2.13M269.56 151.32l-0.48 1.32M235.11 142.72l0.09 2.03M305.56 157.55l-0.07 1.67M227.91 145.98l0.38 1.04M224.76 153.58l0.39 1.52M198.81 158l0.23 1.95M296.02 156.22l-0.41 1.21M248.95 145.34l-0.37 1.06M263.76 150.86l-0.18 2.19M264.56 144.5l-0.11 1.9M223.34 149.81l-0.6 1.23M290.27 156.23l0.2 1.08M247.23 145.59l-0.28 1.71M251.44 152.24l0.09 1.38M200.19 153.95l0.31 0.95M197.51 154.77l0.03 1.95M261.63 152.6l-0.53 0.82M281.32 152.39l0.26 1.3M206.18 151.19l-0.48 2.07M257.78 145.61l-0.06 1.34M191.83 158.59l0.1 2.14M239.96 144.05l-0.3 0.86M301.35 158.51l-0.22 2.06M286.99 153.74l0.12 2.14M246.94 150.71l-0.31 1.35M274.81 149.38l-0.23 2.03M245.55 148.28l-0.31 1.04M229.8 140.21l0.57 1.21M255.19 141.7l0.04 1.34M235.4 136.31l-0.45 1.96M228.91 141.42l-0.37 1.2M214.65 143.82l0.2 1.28M204.49 155.67l-0.49 1.18M289.38 153.2l-0.07 1.97M285.62 152.38l-0.18 1.81M232.11 149.61l-0.35 2.13M248.1 141.53l-0.06 0.98M273.31 149.36l0.48 1.62M231 140.52l0.13 1.1M294.05 154.4l0.02 1.56M218.8 152.36l-0.14 1.72M255.96 144.45l-0.13 0.92M207.13 156.37l-0.21 1.73M198.62 156.45l-0.17 1.5M222.12 141.05l-0.23 1.12M200.77 156.74l-0.26 1.36M298.62 158.05l0.46 2.01M201.52 153.84l-0.56 1.75M267.95 149.01l-0.1 1.72M272.41 149l0.42 1.29M263.6 145.78l-0.46 2.08M276.76 154.74l-0.55 0.86M205.25 151.12l-0.24 1.33M189.9 156.38l0.17 1.05M289.93 156.07l0.26 1.16M239.37 144.65l-0.18 0.8M289.28 157.26l-0.26 0.86M291.77 156.6l-0.54 1.14M198.9 157.5l-0.35 2.08M278.69 149.45l0.23 1.35M278.45 156.13l-0.26 0.93M303.3 157.19l0.52 1.77M277.33 155.96l0.15 1.43M191.79 157.78l-0.09 1.52M301.02 155.86l0.31 0.86M272.84 154.97l-0.29 1.56M264.69 150.48l-0.3 0.88M229.73 143.4l-0.36 1.23M202.07 156.33l0.2 1.13M215.21 149.94l-0.07 2.11M228.93 142.18l0.46 1M255.41 144.55l0.38 1.57M280.06 150.68l0.2 1.64M242.65 146.88l0.4 0.96M221.17 145.64l-0.35 0.88M220.11 143.57l0.24 1.43M199.12 155.27l-0.04 1.31M206.01 149.52l-0.59 2.19M278.81 149.47l0.26 2.17M255.46 141.68l-0.01 1.41M208.73 152.76l-0.59 2.09M265.56 151.66l0.52 1.71M216.43 145.72l-0.43 0.84M281.8 156.78l-0.24 1.06M264.76 154.07l0.51 1.04M283.08 156.91l0.29 1.26M208.07 155.94l-0.22 1.32M253.89 144.67l0.4 1.14M190.16 157.41l0.15 1.95M273.2 156.07l0.53 1.49M247.44 140.47l-0.24 1.61M195.03 157.41l-0.4 1.42M196.21 154.36l-0.07 1.07M275.37 147.39l0.41 2M283.36 153.81l-0.26 1.73M249.33 144.33l-0.19 1.41M268.26 154.42l0.48 1.03M221.97 146.61l0.08 1.29M209.43 147.41l-0.21 1.44M298.59 158.43l0.57 2.15M262.48 152.93l-0.53 1.75M261.14 146.23l0.09 2.13M245.09 146.22l-0.24 1.28M295.64 154.27l-0.37 1.75M240.92 137.58l0.19 1.32M257.6 146.39l0.04 1.59M234.54 137.27l-0.38 2.05M253.51 141.28l0.43 1.15M196.87 156.5l-0.3 1.48M254.25 142.92l0.09 0.96M249.15 146.46l-0.5 1.37M194.18 156.41l0.44 1.57M274.33 154.72l-0.46 2.19M275.2 148.32l0.4 1.35M206.41 157.51l0.08 1.88M202.1 156.77l-0.53 1.13M231.54 137.14l0.11 1.1M222.49 150.31l-0.09 2.04M262.65 153.71l0.08 2.08M293.85 154.59l0.29 1.28M280.45 155.19l0.39 0.97M231.63 146.91l0.54 1.81M190.44 157.53l-0.48 1.57M285.38 151.97l0.51 1.75M216.83 144.78l-0.06 1.97M257.67 142.61l-0.57 0.95M285.09 152.42l0.07 1.21M270.9 150.04l-0.43 2.03M252.3 148.45l0.37 2.13M186.73 156.61l-0.42 1.5M294.13 157.9l-0.56 1.06M287.29 156.36l-0.13 1.47M204.79 156.74l-0.13 2.02M261.36 143.62l-0.2 1.1M296.75 157.09l-0.55 1.04M230.12 143.99l0.09 1.34M229.21 137.9l0.09 1.27M187.56 157.05l0.58 0.86M203.23 155.76l-0.27 1.18M247.5 141.85l0.08 1.54M304.62 159.06l-0.56 1.58M281.36 156.98l0.33 1.69M264.33 148.21l-0.26 1.91M294.1 158.6l0.22 1.23M280.42 155.69l0.01 1.69M228.8 145.82l-0.11 0.88M227.15 143.29l0.59 1.47M230.91 140.52l-0.32 1.29M201.95 151.88l0.45 1.43M240.69 143.66l-0.24 1.04M193.29 155.91l-0.23 1.82M253.91 151.97l-0.19 2.09M257.92 142.29l-0.39 1.61M229.62 148.55l-0.09 2.02M193.47 156.69l0.48 1.19M217.19 142.17l-0.4 1.18M273.05 148.85l-0.12 1.08M260.36 152.9l0.18 1.08M276.74 157.14l0.12 0.91M286.18 157.59l-0.19 0.99M208.52 152.77l0.45 1.7M300.36 156.05l-0.21 1.85M266.12 149.19l0.21 1.27M192.18 156.54l-0.55 1.68M226.81 145.89l0.12 1.16M242.92 137.29l0.51 1.59M192 157.4l0.27 1.26M196.68 154.82l-0.43 1.87M196.23 157.86l-0.09 1.55M258.56 148.47l0.19 1.64M226.35 149.63l-0.29 1.8M280.41 156l-0.23 1.88M241.65 140.28l0.03 2.12M201.48 152.23l-0.03 1.72M281.77 152.85l0.59 1.12M279.57 149.81l-0.57 0.99M192.52 156.87l0.07 1.05M302.47 156.94l-0.42 1.05M277.22 156.81l-0.41 0.84M282.26 152.03l0.58 1.5M264.52 148.06l0.36 1.44M225.48 152.27l-0.47 1.83M193.18 157.41l-0.12 2.01M192.5 157.14l-0.11 2.09M303.12 157.84l-0.33 1.15M217.79 147.76l-0.32 1.08M279.9 154.75l-0.24 2.19M212.08 151.82l-0.41 2.01M293.66 155.08l0.3 1.95M220.32 145.47l-0.02 2.05M205.2 155.28l0.12 1.43M257.4 152.2l-0.35 2.04M230.05 148.38l0.44 1.06M293 158.87l-0.24 0.83M198.94 158.36l-0.59 2.08M203.85 156.07l-0.48 1.04M270.35 146.74l-0.19 2.09M274.54 156.04l0.58 0.85M214.33 153.9l0.23 0.85M248.1 141.59l-0.08 0.95M187.49 159.16l-0.22 2.03M200.06 155.74l-0.44 1.4M207.37 154.68l-0.42 1.83M247.59 139.92l-0.18 1.49M299.84 156.48l-0.34 2.15M295.39 157.63l-0.27 1.05M218.08 142.32l-0.55 1.51M236.02 142.2l-0.16 0.81M271.02 153.01l0.05 1.57M271.29 156.61l0.45 1.8M234.91 139.73l-0.1 2.16M233.38 141.3l-0.11 1M185.66 157.68l0.51 1.16M261.36 147.28l-0.31 1.08M199.52 157.68l0.34 2.07M191.19 157.83l-0.21 1.7M253.62 143.92l0.57 0.8M278.28 156.33l0.01 1.63M214.3 151.79l0.29 1.33M274.02 150.91l0.03 1.66M269.65 149.1l0.15 1.56M212.91 152.05l-0.28 2.07M244.16 146.85l0.03 1.47M212.65 146.31l0.51 1.54M250.49 145.96l0.38 1.13M206.54 156.2l-0.05 1.7M288.43 157.92l0.44 0.86M232.66 147.59l0.38 0.97M204.23 152.15l-0.48 1.3M285.4 154.94l-0.06 0.92M234.44 148.68l0.23 1.43M244.79 148.08l0.31 1.01M270.02 149.68l0.02 1.13M231.35 141.65l-0.14 0.82M210.11 152.55l-0.53 1.05M274.77 149.91l-0.21 1.14M289.27 152.94l0.16 2M210.21 150.83l0.35 1.67M231.45 137.57l-0.07 1.31M274.07 149.91l-0.11 1.71M286.35 153.93l-0.14 1.61M300.6 156.01l0.57 1.8M231.54 145.98l-0.2 0.9M279.5 152.34l0.03 1.5M297.66 157.91l-0.57 1.63M242.82 143.03l0.41 1.38M244.2 149.05l-0.07 1.49M248.97 149.5l0.2 1.84M235.21 136.06l0.22 1.58M281.15 156.09l-0.46 1.11M194.64 158.02l-0.48 0.92M279.16 153.89l-0.53 1.75M273.88 151.8l-0.53 1.77M237.24 142.64l0.6 1.94M293.99 154.51l-0.2 1.53M185.75 159.16l-0.27 1.17M224.13 143.21l0.43 1.58M248.87 144.22l-0.54 1.23M293.35 157.86l0.43 1.16M210.25 146.57l0.04 1.32M243.03 143.45l0.1 1.31M285.18 152.56l0.5 1.58M191.4 156.21l0.04 1.37M255.62 144.48l-0.27 1.91M221.44 150.67l0.36 1.63M241.83 148.74l-0.07 2.03M192.21 156.61l0.17 0.87M292.83 153.87l0.12 1.05M300.3 157.35l0.36 1.5M269.23 152.91l-0.25 1.1M289.79 153.43l0.5 1.09M197.61 154.41l0.34 2.13M236.84 143.43l-0.29 2.07M270.74 147.55l-0.53 1.77M190.22 158.51l-0.25 1.13M257.76 145.22l0.07 1.02M298.99 156.24l0.41 1.01M284.92 158.24l-0.13 0.85M232.5 145.13l-0.33 1.56M196.7 156.22l0.27 1.4M269.86 146.87l0.39 0.97M300.41 159l0.53 1.54M221.34 145.4l0.3 1.5M301.23 155.78l-0.02 2.01M259.72 148.7l-0.49 1M218.9 154.1l0.41 1.12M300.58 155.42l0.12 2.15M228.04 151.9l0.19 0.87M226.64 145.29l-0.3 1.84M207.36 155.7l-0.24 0.9M254.9 141.39l0.06 1.9M259.45 147.62l-0.56 1.52M197.15 157l-0.44 1.61M229.11 143.17l0.2 1.03M206.21 157.36l-0.2 1.98M294.18 156.26l-0.42 0.93M294.88 154.55l-0 1.55M199.7 155.79l-0.4 1.55M248.35 143.41l-0.36 1.37M210.43 147.33l-0.31 2.02M247.72 150.1l-0.58 2.12M246.05 148.44l0.08 1.76M213.66 153.55l-0.42 1.17M188.87 156.75l0.02 1.21M296.31 154.69l0.09 1.13M259.41 151.6l0.25 0.89M215.72 150.89l0.58 0.86M262.28 151.42l0.38 1.28M286.32 154.69l0.51 0.82M302.54 157.1l-0.11 0.92M215.6 152.76l0.21 1.01M228.04 140.29l-0.36 1.11M226.38 153.06l0.6 1.91M244.97 144.22l0.34 2.07M278.93 154.48l-0.36 1.68M290.72 157.49l-0.49 1.8M228.65 140.35l0.56 1.74M278.19 149.71l0.39 2.11M298.1 157.89l0.4 1.92M258.8 147.07l0.39 1.9M293.85 155.28l0.55 1.54M303.24 156.19l0.56 1.9M216.5 153.95l-0.32 1.08M242.24 139.94l-0.01 2.07M270.67 153.56l-0.13 1.9M284.21 155.94l0.53 1.96M235.78 136.43l0.18 1.97M227.45 147.16l0.4 1.91M185.56 157.22l-0.58 0.95M286.55 154.44l0.13 1.44M226.93 141.76l-0.18 1.98M262.41 146.65l-0.49 1.18M272.65 151.1l0.19 1.93M200.09 156.74l-0.55 1.95M208.01 150.21l0.55 1.31M213.03 155.49l0.13 2.05M234.29 142.35l0.55 1.51M208.68 155.87l-0.41 1.54M185.04 156.02l0.53 1.44M286.17 153.17l-0.18 0.94M254.08 151.04l0.02 1.33M301.08 158.64l0.2 0.91M263 148.69l0.55 1.31M267.65 152.12l-0.15 1.53M269.57 155.53l-0 1.31M192.12 158.33l0.22 1.58M240.97 146.07l0.47 1.82M278.73 149l-0.21 0.99M304.12 158.73l-0.43 1.62M257.1 141.54l-0.13 1.85M265.19 147.51l0.31 1.21M253.04 145.14l0.57 1.71M285.61 156.1l-0.14 2.15M273.71 153.92l-0.27 1.03M256.9 151.32l0.35 1.29M202.49 154.93l0.45 1.03M277.29 149.73l-0.23 0.87M222.2 145.66l0.56 2.15M208.39 150.4l0.53 1.08M225.11 145.59l-0.47 1.16M234.25 140.9l0.56 1.17M210.5 156.3l-0.06 1.97M264.64 153.24l-0.22 1.01M279.63 153.18l0.07 1.74M279.08 151.29l-0.16 2.08M251.17 143.02l0.16 1.16M281.42 150.09l0.39 1.59M229.21 151.13l-0.28 1.14M193.73 156.93l0.3 1.75M236.59 145.19l-0.47 1.23M265.6 155.63l0.16 1.77M281.83 153.13l0.53 1.84M227.72 144.08l0.37 1.29M208.22 156.39l0.04 1.53M268.68 155.33l-0.44 1.27M193.24 156.4l0 1.99M268.48 151.67l-0.12 1.6M219.23 153.29l0.35 1.97M203.89 155.57l0.3 1.5M297.29 158.52l0.29 1.95M266.11 154.67l-0.44 1.79M272.97 152.96l-0.27 0.89M260.42 152.42l-0.27 1.1M212.98 145.52l0.21 2.16M285.26 153.74l0.24 0.9M289.82 154.54l-0.6 1.68M202.35 153.38l-0.53 1.42M254.36 150.4l-0.55 1.96M198.82 154.84l0.16 1.28M226.38 147.11l-0.34 1.91M211.12 155.34l0.37 1.55M188.81 158.3l-0.57 1.51M237.99 136.38l0.16 1.81M258.11 146.38l0.01 1.62M213.29 155.15l0.59 1.93M305.17 157.04l0.58 0.9M244.73 139.42l-0.06 1.76M273.55 151.44l-0.19 1.07M235.36 139.07l-0.37 1.83M249.53 144.6l-0.36 1.79M209.59 149.33l0.07 1.78M278.46 157.23l0.5 1.81M274.94 147.82l-0.35 0.82M292.95 157.4l0.16 1.17M229.42 140.04l0.16 2.19M223.22 140.4l-0.39 1.3M297.37 158.1l-0.05 0.94M198.34 154.58l0.33 1.46M298.97 158.16l-0.03 1.95M201.04 153.13l0.08 1.51M211.16 148.41l-0.57 2.07M273.78 156.57l0.58 1.41M276.55 151.53l0.37 1.98M201.73 152.08l-0.34 1.62M232.36 136.75l0.4 1.9M242.96 137.69l0.47 1.55M193.87 155.94l0.15 2.04M245.57 146.29l-0.35 1.14M298.22 156.37l-0.48 1.63M200.78 153.82l-0.05 1.62M264.55 152.36l-0.07 0.89M275.56 147.97l-0.04 1.36M269.11 153.32l-0.31 1.71M271.5 151.16l-0.43 2.07M259.88 142.86l-0.31 2.18M213.59 149l0.35 1.95M264.24 152.67l-0.55 0.93M285.34 151.42l-0.54 1.14M301.34 156.26l0.21 2.1M264.83 154.95l-0.28 1.01M187.28 158.24l-0.48 2.16M273.75 148.7l0.37 1.03M249.02 140.16l0.34 2.05M299.54 155.06l0.42 1.58M287.67 155.23l0.14 1.63M284.94 151.59l-0.53 1.56M221.37 146.11l-0.59 1.84M188.01 158.52l0.37 1.44M200.27 156.52l-0.35 1.4M198.8 158.38l0.06 1.29M196.75 157.43l0.42 1.99M197.68 155.66l-0.24 1.87M203.48 155.21l0.57 1.88M185.87 155.6l-0.46 1.77M259.85 148.49l-0.05 1.37M261.38 150.59l0.5 1.83M284.57 157.71l0.4 1.8M188.83 157.91l0.42 1.4M294.77 154.83l0.53 1.42M273.31 149.27l-0.24 1.29M225.55 140.44l-0.07 2.17M266.75 155.39l0.31 1.97M279.09 151.28l-0.3 1.38M187.62 156.14l0.46 2.09M226.09 150.14l0.33 2.05M284.32 154.83l-0.47 1.96M224.21 148.61l-0.16 1.55M205.14 154.01l0.18 1.55M302.24 157.05l0.5 1.77" stroke="#7a7a7a" stroke-width="0.35" fill="none" opacity="0.8"/>
<path d="M236.4 133.0 V141" stroke="#999" stroke-width="0.7"/><path d="M236.4 135.3 V141" stroke="#222" stroke-width="0.8"/>
<path d="M33.4 158.5L60 158.6L100 158.8L140 158.9L170 158.8L190 157.7L199.4 156.8L208.7 154L218.1 149.7L227.4 145.2L236.4 140.9L238.7 142.2L246.1 144.6L255.5 147.5L264.8 150.8L274.2 154L283.6 156.4L292.9 158.1L302.3 158.7L312.4 158.9" fill="none" stroke="#111" stroke-width="1.4" stroke-linejoin="round"/>
<rect x="33.4" y="115.4" width="279" height="43.8" fill="none" stroke="#555" stroke-width="0.85"/>
<path d="M36.65 159.2v-2.0M36.65 115.4v2.0M76.62 159.2v-2.0M76.62 115.4v2.0M116.59 159.2v-2.0M116.59 115.4v2.0M156.56 159.2v-2.0M156.56 115.4v2.0M196.53 159.2v-2.0M196.53 115.4v2.0M236.5 159.2v-2.0M236.5 115.4v2.0M276.47 159.2v-2.0M276.47 115.4v2.0" stroke="#222" stroke-width="0.75" fill="none"/>
<path d="M33.4 159.2h2.0M312.4 159.2h-2.0M33.4 144.6h2.0M312.4 144.6h-2.0M33.4 130h2.0M312.4 130h-2.0M33.4 115.4h2.0M312.4 115.4h-2.0" stroke="#222" stroke-width="0.75" fill="none"/>
<text x="31.8" y="161.6" font-size="5.8" text-anchor="end" fill="#000">0</text>
<text x="31.8" y="147" font-size="5.8" text-anchor="end" fill="#000">2</text>
<text x="31.8" y="132.4" font-size="5.8" text-anchor="end" fill="#000">4</text>
<text x="31.8" y="117.8" font-size="5.8" text-anchor="end" fill="#000">6</text>
<text x="33" y="114" font-size="6.0" text-anchor="start" fill="#000">x10</text>
<text x="43.4" y="111.6" font-size="3.8" text-anchor="start" style="stroke:none" fill="#000">-5</text>
<text transform="translate(8.4,133.6) rotate(-90)" font-size="7.5" text-anchor="middle" fill="#000">Average</text>
<text transform="translate(16,133.6) rotate(-90)" font-size="7.5" text-anchor="middle" fill="#000">DOWN-UP (nA)</text>
<path d="M51.19 215.4v-2.83h3.5v2.83zM63.18 215.4v-5.67h3.5v5.67zM67.18 215.4v-5.67h3.5v5.67zM71.17 215.4v-2.83h3.5v2.83zM79.17 215.4v-2.83h3.5v2.83zM83.16 215.4v-11.33h3.5v11.33zM87.16 215.4v-2.83h3.5v2.83zM91.16 215.4v-2.83h3.5v2.83zM95.15 215.4v-5.67h3.5v5.67zM103.15 215.4v-5.67h3.5v5.67zM107.15 215.4v-2.83h3.5v2.83zM111.14 215.4v-5.67h3.5v5.67zM115.14 215.4v-8.5h3.5v8.5zM119.14 215.4v-5.67h3.5v5.67zM123.13 215.4v-2.83h3.5v2.83zM127.13 215.4v-11.33h3.5v11.33zM131.13 215.4v-2.83h3.5v2.83zM135.12 215.4v-11.33h3.5v11.33zM139.12 215.4v-8.5h3.5v8.5zM143.12 215.4v-5.67h3.5v5.67zM147.12 215.4v-2.83h3.5v2.83zM151.11 215.4v-8.5h3.5v8.5zM159.11 215.4v-5.67h3.5v5.67zM163.1 215.4v-2.83h3.5v2.83zM167.1 215.4v-2.83h3.5v2.83zM171.1 215.4v-5.67h3.5v5.67zM175.1 215.4v-2.83h3.5v2.83zM179.09 215.4v-8.5h3.5v8.5zM187.09 215.4v-5.67h3.5v5.67zM191.08 215.4v-17h3.5v17zM195.08 215.4v-2.83h3.5v2.83zM199.08 215.4v-5.67h3.5v5.67zM203.07 215.4v-5.67h3.5v5.67zM207.07 215.4v-14.17h3.5v14.17zM211.07 215.4v-11.33h3.5v11.33zM215.06 215.4v-19.83h3.5v19.83zM219.06 215.4v-14.17h3.5v14.17zM223.06 215.4v-31.16h3.5v31.16zM227.06 215.4v-19.83h3.5v19.83zM231.05 215.4v-25.5h3.5v25.5zM235.05 215.4v-34h3.5v34zM239.05 215.4v-34h3.5v34zM243.04 215.4v-25.5h3.5v25.5zM247.04 215.4v-14.17h3.5v14.17zM251.04 215.4v-11.33h3.5v11.33zM255.04 215.4v-19.83h3.5v19.83zM259.03 215.4v-8.5h3.5v8.5zM263.03 215.4v-11.33h3.5v11.33zM267.03 215.4v-2.83h3.5v2.83zM271.02 215.4v-5.67h3.5v5.67zM275.02 215.4v-2.83h3.5v2.83zM279.02 215.4v-5.67h3.5v5.67zM283.01 215.4v-11.33h3.5v11.33zM287.01 215.4v-2.83h3.5v2.83zM291.01 215.4v-2.83h3.5v2.83zM295 215.4v-2.83h3.5v2.83zM307 215.4v-2.83h3.5v2.83z" fill="#1a1a1a"/>
<rect x="33.4" y="172.9" width="279" height="42.5" fill="none" stroke="#555" stroke-width="0.85"/>
<path d="M36.65 215.4v-2.0M36.65 172.9v2.0M76.62 215.4v-2.0M76.62 172.9v2.0M116.59 215.4v-2.0M116.59 172.9v2.0M156.56 215.4v-2.0M156.56 172.9v2.0M196.53 215.4v-2.0M196.53 172.9v2.0M236.5 215.4v-2.0M236.5 172.9v2.0M276.47 215.4v-2.0M276.47 172.9v2.0" stroke="#222" stroke-width="0.75" fill="none"/>
<path d="M33.4 215.4h2.0M312.4 215.4h-2.0M33.4 201.24h2.0M312.4 201.24h-2.0M33.4 187.07h2.0M312.4 187.07h-2.0M33.4 172.91h2.0M312.4 172.91h-2.0" stroke="#222" stroke-width="0.75" fill="none"/>
<text x="31" y="217.3" font-size="5.4" text-anchor="end" fill="#000">0</text>
<text x="31" y="203.14" font-size="5.4" text-anchor="end" fill="#000">5</text>
<text x="31" y="188.97" font-size="5.4" text-anchor="end" fill="#000">10</text>
<text x="31" y="174.81" font-size="5.4" text-anchor="end" fill="#000">15</text>
<text x="35.25" y="222.6" font-size="5.6" text-anchor="middle" fill="#000">&#8722;1000</text>
<text x="75.22" y="222.6" font-size="5.6" text-anchor="middle" fill="#000">&#8722;800</text>
<text x="115.19" y="222.6" font-size="5.6" text-anchor="middle" fill="#000">&#8722;600</text>
<text x="155.16" y="222.6" font-size="5.6" text-anchor="middle" fill="#000">&#8722;400</text>
<text x="195.13" y="222.6" font-size="5.6" text-anchor="middle" fill="#000">&#8722;200</text>
<text x="236.5" y="222.6" font-size="5.6" text-anchor="middle" fill="#000">0</text>
<text x="276.47" y="222.6" font-size="5.6" text-anchor="middle" fill="#000">200</text>
<text x="169.5" y="230.6" font-size="7.5" text-anchor="middle" fill="#000">lags (msec)</text>
<text transform="translate(7.8,191.2) rotate(-90)" font-size="7.5" text-anchor="middle" fill="#000">Ripple</text>
<text transform="translate(15.6,191) rotate(-90)" font-size="7.5" text-anchor="middle" fill="#000">Histogram</text>
<path d="M389.3 161.9L394.6 126.8L401 139.4L408 145L415 149.3L422 156.3L429 160.5L437.5 163.3L443.1 157.7L448.7 154.9L454.3 159.9L459.9 167.5L466.9 168.9L472.5 166.1L479.6 160.5L485.2 157.1L490.8 159.1L496.4 164.7L503.4 180.1L509 181.5L514.6 178.7L520.2 180.1L525 181.5L530.7 179.3L536.3 181.5L541.9 183.5L546.6 181.8L552.2 187.1L557.9 193.6L563.5 196.9L568.2 202L573.3 206.7L578.9 199.7L584.5 196.9L590.1 198.3L595.2 191.3L600.8 184.3L606.9 188L612.5 193.6L617.6 202.5L622.4 211L627.4 216L632.2 209.6L637.2 208.1L643.4 216.6L648.4 209.6L654 199.7L660.2 203.9" fill="none" stroke="#000" stroke-width="1.1" stroke-linejoin="round" stroke-dasharray="1.0 1.05"/>
<path d="M389.3 152.1L394.6 117.9L399.6 123.5L405.2 136.6L410.8 145.9L416.5 150.7L421.5 150.4L426.3 143.1L431.9 139.4L437.5 149.3L443.9 160.5L448.7 166.1L454.3 161L459.9 150.7L465.5 146.5L471.1 140.8L476.7 134.7L482.4 136.1L488 137.5L493.6 135.2L497.8 136.6L503.4 141.4L509 138.9L514 133.8L519.7 139.4L525 153.5L530.7 158.2L535.4 156.8L541 156.6L546.6 155.4L552.2 156.8L557.3 157.7L562.6 163.3L568.2 169.7L573.3 167.5L578.9 167.8L584.5 166.9L589.5 166.1L595.2 170.6L600.8 167.5L605.5 160.5L611.1 156.8L616.7 159.6L622.4 170.3L628 179.3L633.6 175.3L639.2 169.5L644.8 172.5L650.4 180.1L656 179.5L661 175.1" fill="none" stroke="#111" stroke-width="1.4" stroke-linejoin="round"/>
<rect x="383.3" y="114.4" width="278.1" height="102.9" fill="none" stroke="#555" stroke-width="0.85"/>
<path d="M383.3 217.3v-2.0M383.3 114.4v2.0M418.06 217.3v-2.0M418.06 114.4v2.0M452.83 217.3v-2.0M452.83 114.4v2.0M487.6 217.3v-2.0M487.6 114.4v2.0M522.36 217.3v-2.0M522.36 114.4v2.0M557.12 217.3v-2.0M557.12 114.4v2.0M591.89 217.3v-2.0M591.89 114.4v2.0M626.65 217.3v-2.0M626.65 114.4v2.0M661.42 217.3v-2.0M661.42 114.4v2.0" stroke="#222" stroke-width="0.75" fill="none"/>
<path d="M383.3 204.44h2.0M661.4 204.44h-2.0M383.3 178.71h2.0M661.4 178.71h-2.0M383.3 152.99h2.0M661.4 152.99h-2.0M383.3 127.26h2.0M661.4 127.26h-2.0" stroke="#222" stroke-width="0.75" fill="none"/>
<text x="383.3" y="223.6" font-size="5.2" text-anchor="middle" fill="#000">0</text>
<text x="418.06" y="223.6" font-size="5.2" text-anchor="middle" fill="#000">50</text>
<text x="452.83" y="223.6" font-size="5.2" text-anchor="middle" fill="#000">100</text>
<text x="487.6" y="223.6" font-size="5.2" text-anchor="middle" fill="#000">150</text>
<text x="522.36" y="223.6" font-size="5.2" text-anchor="middle" fill="#000">200</text>
<text x="557.12" y="223.6" font-size="5.2" text-anchor="middle" fill="#000">250</text>
<text x="591.89" y="223.6" font-size="5.2" text-anchor="middle" fill="#000">300</text>
<text x="626.65" y="223.6" font-size="5.2" text-anchor="middle" fill="#000">350</text>
<text x="661.42" y="223.6" font-size="5.2" text-anchor="middle" fill="#000">400</text>
<text x="381.6" y="206.24" font-size="5.2" text-anchor="end" fill="#000">1.1</text>
<text x="381.6" y="180.51" font-size="5.2" text-anchor="end" fill="#000">1.2</text>
<text x="381.6" y="154.79" font-size="5.2" text-anchor="end" fill="#000">1.3</text>
<text x="381.6" y="129.06" font-size="5.2" text-anchor="end" fill="#000">1.4</text>
<text x="523.4" y="231.8" font-size="7.5" text-anchor="middle" fill="#000">Frequency (Hz)</text>
<text transform="translate(363,164.8) rotate(-90)" font-size="7.5" text-anchor="middle" fill="#000">Interneuronal</text>
<text transform="translate(370.4,164.8) rotate(-90)" font-size="7.5" text-anchor="middle" fill="#000">Power Spectrum</text>
<path d="M54.37 297.3v-2.4h2.56v2.4zM57.15 297.3v-0.6h2.56v0.6zM59.93 297.3v-3.2h2.56v3.2zM62.71 297.3v-4.2h2.56v4.2zM65.49 297.3v-0.5h2.56v0.5zM68.27 297.3v-0.5h2.56v0.5zM71.05 297.3v-0.6h2.56v0.6zM73.84 297.3v-0.6h2.56v0.6zM76.62 297.3v-0.5h2.56v0.5zM79.4 297.3v-3.4h2.56v3.4zM82.18 297.3v-0.5h2.56v0.5zM84.96 297.3v-0.5h2.56v0.5zM87.74 297.3v-2.4h2.56v2.4zM90.52 297.3v-1.4h2.56v1.4zM93.3 297.3v-5.7h2.56v5.7zM96.08 297.3v-0.5h2.56v0.5zM98.86 297.3v-4.2h2.56v4.2zM101.65 297.3v-4.2h2.56v4.2zM104.43 297.3v-2.2h2.56v2.2zM107.21 297.3v-7.4h2.56v7.4zM109.99 297.3v-6.4h2.56v6.4zM112.77 297.3v-11.1h2.56v11.1zM115.55 297.3v-6.3h2.56v6.3zM118.33 297.3v-10.2h2.56v10.2zM121.11 297.3v-15.2h2.56v15.2zM123.89 297.3v-11.1h2.56v11.1zM126.67 297.3v-12.6h2.56v12.6zM129.46 297.3v-18h2.56v18zM132.24 297.3v-13.4h2.56v13.4zM135.02 297.3v-13.4h2.56v13.4zM137.8 297.3v-13.4h2.56v13.4zM140.58 297.3v-14.1h2.56v14.1zM143.36 297.3v-22.2h2.56v22.2zM146.14 297.3v-11.6h2.56v11.6zM148.92 297.3v-11.6h2.56v11.6zM151.7 297.3v-17.1h2.56v17.1zM154.48 297.3v-23.4h2.56v23.4zM157.27 297.3v-25.7h2.56v25.7zM160.05 297.3v-21.2h2.56v21.2zM162.83 297.3v-30.9h2.56v30.9zM165.61 297.3v-20.4h2.56v20.4zM168.39 297.3v-16.4h2.56v16.4zM171.17 297.3v-22.4h2.56v22.4zM173.95 297.3v-26h2.56v26zM176.73 297.3v-22.4h2.56v22.4zM179.51 297.3v-24.3h2.56v24.3zM182.29 297.3v-15.2h2.56v15.2zM185.08 297.3v-17.4h2.56v17.4zM187.86 297.3v-16.4h2.56v16.4zM190.64 297.3v-25.1h2.56v25.1zM193.42 297.3v-15.2h2.56v15.2zM196.2 297.3v-12.8h2.56v12.8zM198.98 297.3v-15.2h2.56v15.2zM201.76 297.3v-23.4h2.56v23.4zM204.54 297.3v-14.4h2.56v14.4zM207.32 297.3v-8.4h2.56v8.4zM210.1 297.3v-13.5h2.56v13.5zM212.89 297.3v-3.2h2.56v3.2zM215.67 297.3v-2h2.56v2zM218.45 297.3v-12.8h2.56v12.8zM221.23 297.3v-9.2h2.56v9.2zM224.01 297.3v-1.2h2.56v1.2zM226.79 297.3v-7.5h2.56v7.5zM229.57 297.3v-4.2h2.56v4.2zM232.35 297.3v-1.2h2.56v1.2zM235.13 297.3v-0.6h2.56v0.6zM237.91 297.3v-3.2h2.56v3.2zM240.7 297.3v-3.2h2.56v3.2zM243.48 297.3v-0.4h2.56v0.4zM246.26 297.3v-3.9h2.56v3.9zM249.04 297.3v-3.9h2.56v3.9zM251.82 297.3v-3.4h2.56v3.4zM254.6 297.3v-2.8h2.56v2.8zM257.38 297.3v-2h2.56v2zM260.16 297.3v-1.7h2.56v1.7zM262.94 297.3v-0.5h2.56v0.5zM265.72 297.3v-0.5h2.56v0.5zM268.51 297.3v-0.9h2.56v0.9zM271.29 297.3v-0.9h2.56v0.9zM274.07 297.3v-1.3h2.56v1.3zM276.85 297.3v-1.3h2.56v1.3z" fill="#8c8c8c"/>
<path d="M62.81 297.3v-1.5h2.36v1.5zM73.93 297.3v-1.4h2.36v1.4zM79.5 297.3v-1.4h2.36v1.4zM93.4 297.3v-2h2.36v2zM98.96 297.3v-1.4h2.36v1.4zM110.09 297.3v-1.6h2.36v1.6zM112.87 297.3v-1.6h2.36v1.6zM121.21 297.3v-3.6h2.36v3.6zM132.33 297.3v-1.2h2.36v1.2zM137.9 297.3v-1.2h2.36v1.2zM143.46 297.3v-1.2h2.36v1.2zM149.02 297.3v-1.2h2.36v1.2zM151.8 297.3v-1.2h2.36v1.2zM154.58 297.3v-2.4h2.36v2.4zM165.71 297.3v-2h2.36v2zM168.49 297.3v-1.2h2.36v1.2zM179.61 297.3v-1.6h2.36v1.6zM212.98 297.3v-1.6h2.36v1.6z" fill="#111"/>
<path d="M33.4 258L34 258.02L34.6 258.05L35.2 258.1L35.8 258.15L36.4 258.21L37 258.28L37.6 258.35L38.2 258.42L38.8 258.48L39.4 258.53L40 258.57L40.6 258.59L41.2 258.6L41.8 258.59L42.4 258.57L43 258.54L43.6 258.49L44.2 258.43L44.8 258.36L45.4 258.29L46 258.23L46.6 258.16L47.2 258.1L47.8 258.06L48.4 258.02L49 258L49.6 258L50.2 258.01L50.8 258.04L51.4 258.08L52 258.13L52.6 258.19L53.2 258.26L53.8 258.33L54.4 258.4L55 258.46L55.6 258.51L56.2 258.55L56.8 258.58L57.4 258.6L58 258.6L58.6 258.58L59.2 258.55L59.8 258.5L60.4 258.45L61 258.39L61.6 258.32L62.2 258.25L62.8 258.18L63.4 258.12L64 258.07L64.6 258.03L65.2 258.01L65.8 258L66.4 258.01L67 258.03L67.6 258.06L68.2 258.11L68.8 258.17L69.4 258.24L70 258.31L70.6 258.37L71.2 258.44L71.8 258.5L72.4 258.54L73 258.58L73.6 258.6L74.2 258.6L74.8 258.59L75.4 258.56L76 258.52L76.6 258.47L77.2 258.41L77.8 258.34L78.4 258.27L79 258.2L79.6 258.14L80.2 258.08L80.8 258.04L81.4 258.01L82 257.99L82.6 257.99L83.2 258.01L83.8 258.04L84.4 258.09L85 258.14L85.6 258.21L86.2 258.28L86.8 258.35L87.4 258.43L88 258.49L88.6 258.55L89.2 258.59L89.8 258.62L90.4 258.63L91 258.62L91.6 258.6L92.2 258.56L92.8 258.51L93.4 258.45L94 258.37L94.6 258.29L95.2 258.21L95.8 258.13L96.4 258.06L97 258L97.6 257.96L98.2 257.93L98.8 257.91L99.4 257.92L100 257.95L100.6 258L101.2 258.07L101.8 258.15L102.4 258.24L103 258.34L103.6 258.44L104.2 258.54L104.8 258.63L105.4 258.71L106 258.77L106.6 258.81L107.2 258.82L107.8 258.8L108.4 258.76L109 258.69L109.6 258.59L110.2 258.47L110.8 258.34L111.4 258.19L112 258.04L112.6 257.89L113.2 257.76L113.8 257.65L114.4 257.56L115 257.51L115.6 257.5L116.2 257.53L116.8 257.61L117.4 257.73L118 257.9L118.6 258.1L119.2 258.32L119.8 258.56L120.4 258.8L121 259.04L121.6 259.25L122.2 259.43L122.8 259.55L123.4 259.61L124 259.61L124.6 259.53L125.2 259.38L125.8 259.15L126.4 258.86L127 258.52L127.6 258.14L128.2 257.73L128.8 257.33L129.4 256.96L130 256.63L130.6 256.37L131.2 256.2L131.8 256.14L132.4 256.19L133 256.36L133.6 256.66L134.2 257.07L134.8 257.57L135.4 258.15L136 258.77L136.6 259.41L137.2 260.03L137.8 260.59L138.4 261.06L139 261.41L139.6 261.6L140.2 261.63L140.8 261.47L141.4 261.12L142 260.6L142.6 259.92L143.2 259.12L143.8 258.22L144.4 257.29L145 256.36L145.6 255.48L146.2 254.73L146.8 254.12L147.4 253.73L148 253.56L148.6 253.64L149.2 253.99L149.8 254.58L150.4 255.4L151 256.42L151.6 257.58L152.2 258.82L152.8 260.09L153.4 261.3L154 262.39L154.6 263.3L155.2 263.97L155.8 264.35L156.4 264.42L157 264.16L157.6 263.57L158.2 262.68L158.8 261.53L159.4 260.17L160 258.68L160.6 257.14L161.2 255.62L161.8 254.22L162.4 253L163 252.05L163.6 251.42L164.2 251.14L164.8 251.25L165.4 251.73L166 252.57L166.6 253.73L167.2 255.15L167.8 256.75L168.4 258.44L169 260.14L169.6 261.76L170.2 263.19L170.8 264.38L171.4 265.24L172 265.74L172.6 265.84L173.2 265.54L173.8 264.85L174.4 263.82L175 262.5L175.6 260.97L176.2 259.3L176.8 257.59L177.4 255.93L178 254.41L178.6 253.12L179.2 252.11L179.8 251.44L180.4 251.15L181 251.23L181.6 251.69L182.2 252.49L182.8 253.58L183.4 254.9L184 256.37L184.6 257.91L185.2 259.44L185.8 260.87L186.4 262.13L187 263.16L187.6 263.9L188.2 264.33L188.8 264.43L189.4 264.2L190 263.67L190.6 262.88L191.2 261.87L191.8 260.71L192.4 259.46L193 258.2L193.6 256.99L194.2 255.89L194.8 254.97L195.4 254.25L196 253.78L196.6 253.57L197.2 253.61L197.8 253.9L198.4 254.4L199 255.09L199.6 255.91L200.2 256.82L200.8 257.76L201.4 258.68L202 259.53L202.6 260.28L203.2 260.88L203.8 261.32L204.4 261.57L205 261.64L205.6 261.53L206.2 261.25L206.8 260.84L207.4 260.32L208 259.73L208.6 259.09L209.2 258.46L209.8 257.85L210.4 257.31L211 256.85L211.6 256.5L212.2 256.26L212.8 256.15L213.4 256.16L214 256.27L214.6 256.49L215.2 256.79L215.8 257.14L216.4 257.53L217 257.94L217.6 258.33L218.2 258.7L218.8 259.02L219.4 259.28L220 259.47L220.6 259.58L221.2 259.62L221.8 259.59L222.4 259.49L223 259.34L223.6 259.15L224.2 258.92L224.8 258.68L225.4 258.44L226 258.2L226.6 257.99L227.2 257.81L227.8 257.67L228.4 257.57L229 257.51L229.6 257.5L230.2 257.53L230.8 257.6L231.4 257.7L232 257.82L232.6 257.96L233.2 258.11L233.8 258.26L234.4 258.41L235 258.53L235.6 258.64L236.2 258.73L236.8 258.79L237.4 258.82L238 258.82L238.6 258.79L239.2 258.74L239.8 258.68L240.4 258.59L241 258.49L241.6 258.39L242.2 258.29L242.8 258.19L243.4 258.11L244 258.03L244.6 257.97L245.2 257.94L245.8 257.92L246.4 257.92L247 257.94L247.6 257.98L248.2 258.03L248.8 258.1L249.4 258.17L250 258.25L250.6 258.33L251.2 258.41L251.8 258.48L252.4 258.54L253 258.59L253.6 258.62L254.2 258.63L254.8 258.63L255.4 258.6L256 258.57L256.6 258.52L257.2 258.46L257.8 258.39L258.4 258.32L259 258.25L259.6 258.18L260.2 258.11L260.8 258.06L261.4 258.02L262 258L262.6 257.99L263.2 258L263.8 258.02L264.4 258.06L265 258.11L265.6 258.17L266.2 258.24L266.8 258.31L267.4 258.38L268 258.44L268.6 258.5L269.2 258.54L269.8 258.58L270.4 258.6L271 258.6L271.6 258.59L272.2 258.56L272.8 258.52L273.4 258.47L274 258.41L274.6 258.34L275.2 258.27L275.8 258.2L276.4 258.14L277 258.09L277.6 258.04L278.2 258.02L278.8 258L279.4 258L280 258.02L280.6 258.05L281.2 258.1L281.8 258.15L282.4 258.21L283 258.28L283.6 258.35L284.2 258.42L284.8 258.48L285.4 258.53L286 258.57L286.6 258.59L287.2 258.6L287.8 258.59L288.4 258.57L289 258.54L289.6 258.49L290.2 258.43L290.8 258.36L291.4 258.29L292 258.23L292.6 258.16L293.2 258.1L293.8 258.06L294.4 258.02L295 258L295.6 258L296.2 258.01L296.8 258.04L297.4 258.08L298 258.13L298.6 258.19L299.2 258.26L299.8 258.33L300.4 258.4L301 258.46L301.6 258.51L302.2 258.55L302.8 258.58L303.4 258.6L304 258.6L304.6 258.58L305.2 258.55L305.8 258.5L306.4 258.45L307 258.39L307.6 258.32L308.2 258.25L308.8 258.18L309.4 258.12L310 258.07L310.6 258.03L311.2 258.01" fill="none" stroke="#111" stroke-width="1.15" stroke-linejoin="round"/>
<circle cx="287.2" cy="269.2" r="23.4" fill="#fff" stroke="none"/>
<path d="M287.2 269.2L310.4 269.2M287.2 269.2L307.29 257.6M287.2 269.2L298.8 249.11M287.2 269.2L287.2 246M287.2 269.2L275.6 249.11M287.2 269.2L267.11 257.6M287.2 269.2L264 269.2M287.2 269.2L267.11 280.8M287.2 269.2L275.6 289.29M287.2 269.2L287.2 292.4M287.2 269.2L298.8 289.29M287.2 269.2L307.29 280.8" stroke="#aaa" stroke-width="0.35" stroke-dasharray="0.6 0.8" fill="none"/>
<circle cx="287.2" cy="269.2" r="7.73" fill="none" stroke="#aaa" stroke-width="0.35" stroke-dasharray="0.6 0.8"/>
<circle cx="287.2" cy="269.2" r="15.47" fill="none" stroke="#aaa" stroke-width="0.35" stroke-dasharray="0.6 0.8"/>
<circle cx="287.2" cy="269.2" r="23.2" fill="none" stroke="#333" stroke-width="0.6"/>
<path d="M287.2 269.2L297.7 269.2L297.19 265.96ZM287.2 269.2L305.75 263.17L302.98 257.74ZM287.2 269.2L294.48 263.91L292.49 261.92ZM287.2 269.2L296.6 256.26L292.14 253.98ZM287.2 269.2L290.29 259.69L287.2 259.2ZM287.2 269.2L287.2 261.2L284.73 261.59ZM287.2 269.2L283.03 256.36L279.26 258.28ZM287.2 269.2L282.5 262.73L280.73 264.5ZM287.2 269.2L274.66 260.09L272.46 264.41ZM287.2 269.2L277.69 266.11L277.2 269.2ZM287.2 269.2L273.2 269.2L273.89 273.53ZM287.2 269.2L271.51 274.3L273.85 278.9ZM287.2 269.2L277.09 276.55L279.85 279.31ZM287.2 269.2L282.5 275.67L284.73 276.81ZM287.2 269.2L281.64 286.32L287.2 287.2ZM287.2 269.2L287.2 278.2L289.98 277.76ZM287.2 269.2L289.67 276.81L291.9 275.67ZM287.2 269.2L298.96 285.38L303.38 280.96ZM287.2 269.2L294.48 274.49L295.76 271.98ZM287.2 269.2L296.71 272.29L297.2 269.2Z" fill="none" stroke="#111" stroke-width="0.7" stroke-linejoin="miter"/>
<circle cx="287.2" cy="269.2" r="1.9" fill="#000"/>
<circle cx="287.2" cy="269.2" r="3.4" fill="#111" opacity="0.3"/>
<text x="286.3" y="245" font-size="6.3" text-anchor="middle" fill="#000">90</text>
<text x="306.5" y="252" font-size="6.3" text-anchor="middle" fill="#000">0.1</text>
<text x="262" y="271.4" font-size="6.3" text-anchor="end" fill="#000">180</text>
<text x="314" y="271.4" font-size="6.3" text-anchor="start" fill="#000">0</text>
<text x="292.2" y="297.7" font-size="6.4" text-anchor="middle" fill="#000">270</text>
<rect x="33.4" y="245.3" width="278.1" height="52" fill="none" stroke="#555" stroke-width="0.85"/>
<path d="M33.4 297.3v-2.0M33.4 245.3v2.0M61.21 297.3v-2.0M61.21 245.3v2.0M89.02 297.3v-2.0M89.02 245.3v2.0M116.83 297.3v-2.0M116.83 245.3v2.0M144.64 297.3v-2.0M144.64 245.3v2.0M172.45 297.3v-2.0M172.45 245.3v2.0M200.26 297.3v-2.0M200.26 245.3v2.0M228.07 297.3v-2.0M228.07 245.3v2.0M255.88 297.3v-2.0M255.88 245.3v2.0M283.69 297.3v-2.0M283.69 245.3v2.0M311.5 297.3v-2.0M311.5 245.3v2.0" stroke="#222" stroke-width="0.75" fill="none"/>
<path d="M33.4 271.6h2.0M311.5 271.6h-2.0" stroke="#222" stroke-width="0.75" fill="none"/>
<text x="32.2" y="303.9" font-size="5.4" text-anchor="middle" fill="#000">&#8722;50</text>
<text x="60.01" y="303.9" font-size="5.4" text-anchor="middle" fill="#000">&#8722;40</text>
<text x="87.82" y="303.9" font-size="5.4" text-anchor="middle" fill="#000">&#8722;30</text>
<text x="115.63" y="303.9" font-size="5.4" text-anchor="middle" fill="#000">&#8722;20</text>
<text x="143.44" y="303.9" font-size="5.4" text-anchor="middle" fill="#000">&#8722;10</text>
<text x="172.45" y="303.9" font-size="5.4" text-anchor="middle" fill="#000">0</text>
<text x="200.26" y="303.9" font-size="5.4" text-anchor="middle" fill="#000">10</text>
<text x="228.07" y="303.9" font-size="5.4" text-anchor="middle" fill="#000">20</text>
<text x="255.88" y="303.9" font-size="5.4" text-anchor="middle" fill="#000">30</text>
<text x="283.69" y="303.9" font-size="5.4" text-anchor="middle" fill="#000">40</text>
<text x="311.5" y="303.9" font-size="5.4" text-anchor="middle" fill="#000">50</text>
<text x="31" y="273.5" font-size="5.4" text-anchor="end" fill="#000">30</text>
<text x="171.45" y="311.8" font-size="7.5" text-anchor="middle" fill="#000">lags (msec)</text>
<text transform="translate(7.4,271) rotate(-90)" font-size="7.7" text-anchor="middle" fill="#000">Pyramidal</text>
<text transform="translate(15.5,271.2) rotate(-90)" font-size="7.7" text-anchor="middle" fill="#000">Histogram</text>
<path d="M391.05 297.2v-0.8h2.55v0.8zM410.49 297.2v-2h2.55v2zM413.27 297.2v-1.5h2.55v1.5zM416.05 297.2v-1.5h2.55v1.5zM418.82 297.2v-2h2.55v2zM421.6 297.2v-3.8h2.55v3.8zM424.38 297.2v-0.8h2.55v0.8zM427.15 297.2v-2.6h2.55v2.6zM429.93 297.2v-0.5h2.55v0.5zM432.71 297.2v-0.5h2.55v0.5zM435.49 297.2v-2h2.55v2zM438.26 297.2v-4h2.55v4zM441.04 297.2v-0.8h2.55v0.8zM443.82 297.2v-3.6h2.55v3.6zM446.59 297.2v-0.8h2.55v0.8zM449.37 297.2v-3.8h2.55v3.8zM452.15 297.2v-3.8h2.55v3.8zM454.92 297.2v-2.9h2.55v2.9zM457.7 297.2v-1.2h2.55v1.2zM460.48 297.2v-2h2.55v2zM463.26 297.2v-6.8h2.55v6.8zM466.03 297.2v-4.8h2.55v4.8zM468.81 297.2v-6.8h2.55v6.8zM471.59 297.2v-10.4h2.55v10.4zM474.36 297.2v-7.2h2.55v7.2zM477.14 297.2v-7.7h2.55v7.7zM479.92 297.2v-8.9h2.55v8.9zM482.69 297.2v-8h2.55v8zM485.47 297.2v-14.4h2.55v14.4zM488.25 297.2v-15.6h2.55v15.6zM491.03 297.2v-14.9h2.55v14.9zM493.8 297.2v-19.2h2.55v19.2zM496.58 297.2v-12.2h2.55v12.2zM499.36 297.2v-12.8h2.55v12.8zM502.13 297.2v-17.6h2.55v17.6zM504.91 297.2v-26h2.55v26zM507.69 297.2v-26.8h2.55v26.8zM510.46 297.2v-24.2h2.55v24.2zM513.24 297.2v-11h2.55v11zM516.02 297.2v-14.4h2.55v14.4zM518.8 297.2v-14.4h2.55v14.4zM521.57 297.2v-29.9h2.55v29.9zM524.35 297.2v-25.1h2.55v25.1zM527.13 297.2v-17.6h2.55v17.6zM529.9 297.2v-13.4h2.55v13.4zM532.68 297.2v-13.2h2.55v13.2zM535.46 297.2v-15.8h2.55v15.8zM538.23 297.2v-13.2h2.55v13.2zM541.01 297.2v-15.2h2.55v15.2zM543.79 297.2v-15.6h2.55v15.6zM546.57 297.2v-11.3h2.55v11.3zM549.34 297.2v-13.4h2.55v13.4zM552.12 297.2v-14.6h2.55v14.6zM554.9 297.2v-11.3h2.55v11.3zM557.67 297.2v-13.2h2.55v13.2zM560.45 297.2v-7.2h2.55v7.2zM563.23 297.2v-8h2.55v8zM566 297.2v-8.9h2.55v8.9zM568.78 297.2v-5h2.55v5zM571.56 297.2v-11.3h2.55v11.3zM574.34 297.2v-6.2h2.55v6.2zM577.11 297.2v-5h2.55v5zM579.89 297.2v-3.8h2.55v3.8zM582.67 297.2v-2.6h2.55v2.6zM585.44 297.2v-2.6h2.55v2.6zM588.22 297.2v-0.4h2.55v0.4zM591 297.2v-1.4h2.55v1.4zM593.77 297.2v-2h2.55v2zM596.55 297.2v-1.7h2.55v1.7zM599.33 297.2v-0.8h2.55v0.8zM602.11 297.2v-1.4h2.55v1.4zM604.88 297.2v-0.5h2.55v0.5zM607.66 297.2v-0.8h2.55v0.8zM610.44 297.2v-0.5h2.55v0.5zM613.21 297.2v-1.2h2.55v1.2zM615.99 297.2v-1.2h2.55v1.2zM624.32 297.2v-1.8h2.55v1.8zM627.1 297.2v-1.8h2.55v1.8zM629.88 297.2v-1h2.55v1zM652.09 297.2v-1.8h2.55v1.8zM654.87 297.2v-1h2.55v1zM657.65 297.2v-0.6h2.55v0.6z" fill="#8c8c8c"/>
<path d="M466.13 297.2v-1.4h2.36v1.4zM474.46 297.2v-1h2.36v1zM485.57 297.2v-2h2.36v2zM493.9 297.2v-1h2.36v1zM499.45 297.2v-2h2.36v2zM502.23 297.2v-2h2.36v2zM513.34 297.2v-1.6h2.36v1.6zM518.89 297.2v-2.8h2.36v2.8zM521.67 297.2v-1.6h2.36v1.6zM530 297.2v-1h2.36v1zM538.33 297.2v-1.4h2.36v1.4zM552.22 297.2v-1.2h2.36v1.2zM566.1 297.2v-0.6h2.36v0.6z" fill="#111"/>
<path d="M384 257.61L384.6 257.63L385.2 257.66L385.8 257.71L386.4 257.77L387 257.84L387.6 257.91L388.2 257.97L388.8 258.04L389.4 258.1L390 258.14L390.6 258.18L391.2 258.2L391.8 258.2L392.4 258.19L393 258.16L393.6 258.12L394.2 258.07L394.8 258.01L395.4 257.94L396 257.87L396.6 257.8L397.2 257.74L397.8 257.69L398.4 257.65L399 257.62L399.6 257.6L400.2 257.6L400.8 257.62L401.4 257.65L402 257.7L402.6 257.75L403.2 257.81L403.8 257.88L404.4 257.95L405 258.02L405.6 258.08L406.2 258.13L406.8 258.17L407.4 258.19L408 258.2L408.6 258.19L409.2 258.17L409.8 258.14L410.4 258.09L411 258.03L411.6 257.96L412.2 257.89L412.8 257.83L413.4 257.76L414 257.7L414.6 257.66L415.2 257.62L415.8 257.6L416.4 257.6L417 257.61L417.6 257.64L418.2 257.68L418.8 257.73L419.4 257.79L420 257.86L420.6 257.93L421.2 258L421.8 258.06L422.4 258.11L423 258.16L423.6 258.19L424.2 258.2L424.8 258.2L425.4 258.18L426 258.15L426.6 258.11L427.2 258.05L427.8 257.99L428.4 257.92L429 257.85L429.6 257.78L430.2 257.72L430.8 257.67L431.4 257.63L432 257.6L432.6 257.59L433.2 257.6L433.8 257.62L434.4 257.66L435 257.71L435.6 257.77L436.2 257.83L436.8 257.91L437.4 257.98L438 258.05L438.6 258.11L439.2 258.16L439.8 258.2L440.4 258.22L441 258.23L441.6 258.22L442.2 258.19L442.8 258.15L443.4 258.09L444 258.02L444.6 257.95L445.2 257.87L445.8 257.79L446.4 257.71L447 257.64L447.6 257.58L448.2 257.54L448.8 257.52L449.4 257.51L450 257.53L450.6 257.57L451.2 257.62L451.8 257.69L452.4 257.78L453 257.88L453.6 257.98L454.2 258.08L454.8 258.18L455.4 258.26L456 258.33L456.6 258.39L457.2 258.41L457.8 258.42L458.4 258.39L459 258.34L459.6 258.26L460.2 258.15L460.8 258.03L461.4 257.89L462 257.74L462.6 257.59L463.2 257.45L463.8 257.32L464.4 257.21L465 257.14L465.6 257.1L466.2 257.11L466.8 257.15L467.4 257.25L468 257.38L468.6 257.56L469.2 257.77L469.8 258L470.4 258.24L471 258.48L471.6 258.71L472.2 258.91L472.8 259.07L473.4 259.18L474 259.22L474.6 259.19L475.2 259.09L475.8 258.91L476.4 258.66L477 258.35L477.6 258L478.2 257.6L478.8 257.2L479.4 256.81L480 256.44L480.6 256.14L481.2 255.9L481.8 255.77L482.4 255.74L483 255.83L483.6 256.05L484.2 256.38L484.8 256.82L485.4 257.35L486 257.95L486.6 258.59L487.2 259.22L487.8 259.83L488.4 260.36L489 260.79L489.6 261.09L490.2 261.23L490.8 261.19L491.4 260.97L492 260.57L492.6 259.99L493.2 259.27L493.8 258.43L494.4 257.51L495 256.57L495.6 255.66L496.2 254.82L496.8 254.11L497.4 253.57L498 253.24L498.6 253.16L499.2 253.33L499.8 253.76L500.4 254.43L501 255.32L501.6 256.39L502.2 257.59L502.8 258.85L503.4 260.1L504 261.28L504.6 262.32L505.2 263.16L505.8 263.73L506.4 264.01L507 263.97L507.6 263.6L508.2 262.9L508.8 261.92L509.4 260.7L510 259.29L510.6 257.77L511.2 256.23L511.8 254.74L512.4 253.39L513 252.25L513.6 251.4L514.2 250.89L514.8 250.74L515.4 250.97L516 251.57L516.6 252.53L517.2 253.78L517.8 255.27L518.4 256.91L519 258.61L519.6 260.3L520.2 261.86L520.8 263.22L521.4 264.3L522 265.05L522.6 265.42L523.2 265.38L523.8 264.95L524.4 264.15L525 263.01L525.6 261.61L526.2 260.02L526.8 258.33L527.4 256.63L528 255L528.6 253.55L529.2 252.35L529.8 251.45L530.4 250.9L531 250.73L531.6 250.95L532.2 251.52L532.8 252.43L533.4 253.6L534 254.98L534.6 256.48L535.2 258.03L535.8 259.53L536.4 260.91L537 262.1L537.6 263.04L538.2 263.68L538.8 264L539.4 263.99L540 263.66L540.6 263.03L541.2 262.16L541.8 261.09L542.4 259.9L543 258.64L543.6 257.38L544.2 256.21L544.8 255.16L545.4 254.3L546 253.67L546.6 253.28L547.2 253.15L547.8 253.28L548.4 253.64L549 254.21L549.6 254.95L550.2 255.81L550.8 256.73L551.4 257.67L552 258.57L552.6 259.4L553.2 260.1L553.8 260.65L554.4 261.02L555 261.21L555.6 261.22L556.2 261.05L556.8 260.73L557.4 260.28L558 259.73L558.6 259.12L559.2 258.48L559.8 257.85L560.4 257.26L561 256.74L561.6 256.32L562.2 256.01L562.8 255.81L563.4 255.74L564 255.78L564.6 255.94L565.2 256.18L565.8 256.5L566.4 256.87L567 257.27L567.6 257.67L568.2 258.06L568.8 258.41L569.4 258.71L570 258.95L570.6 259.11L571.2 259.2L571.8 259.22L572.4 259.17L573 259.05L573.6 258.88L574.2 258.68L574.8 258.44L575.4 258.2L576 257.96L576.6 257.73L577.2 257.53L577.8 257.36L578.4 257.23L579 257.14L579.6 257.1L580.2 257.11L580.8 257.15L581.4 257.23L582 257.34L582.6 257.47L583.2 257.61L583.8 257.76L584.4 257.91L585 258.05L585.6 258.17L586.2 258.27L586.8 258.35L587.4 258.4L588 258.42L588.6 258.41L589.2 258.38L589.8 258.32L590.4 258.25L591 258.16L591.6 258.06L592.2 257.96L592.8 257.86L593.4 257.76L594 257.68L594.6 257.61L595.2 257.56L595.8 257.53L596.4 257.51L597 257.52L597.6 257.55L598.2 257.59L598.8 257.65L599.4 257.72L600 257.8L600.6 257.88L601.2 257.96L601.8 258.03L602.4 258.1L603 258.16L603.6 258.2L604.2 258.22L604.8 258.23L605.4 258.22L606 258.19L606.6 258.15L607.2 258.1L607.8 258.04L608.4 257.97L609 257.89L609.6 257.82L610.2 257.76L610.8 257.7L611.4 257.65L612 257.61L612.6 257.59L613.2 257.59L613.8 257.6L614.4 257.63L615 257.67L615.6 257.73L616.2 257.79L616.8 257.86L617.4 257.93L618 258L618.6 258.06L619.2 258.11L619.8 258.16L620.4 258.19L621 258.2L621.6 258.2L622.2 258.18L622.8 258.15L623.4 258.11L624 258.05L624.6 257.99L625.2 257.92L625.8 257.85L626.4 257.78L627 257.72L627.6 257.67L628.2 257.63L628.8 257.61L629.4 257.6L630 257.61L630.6 257.63L631.2 257.66L631.8 257.71L632.4 257.77L633 257.84L633.6 257.91L634.2 257.97L634.8 258.04L635.4 258.1L636 258.14L636.6 258.18L637.2 258.2L637.8 258.2L638.4 258.19L639 258.16L639.6 258.12L640.2 258.07L640.8 258.01L641.4 257.94L642 257.87L642.6 257.8L643.2 257.74L643.8 257.69L644.4 257.65L645 257.62L645.6 257.6L646.2 257.6L646.8 257.62L647.4 257.65L648 257.7L648.6 257.75L649.2 257.81L649.8 257.88L650.4 257.95L651 258.02L651.6 258.08L652.2 258.13L652.8 258.17L653.4 258.19L654 258.2L654.6 258.19L655.2 258.17L655.8 258.14L656.4 258.09L657 258.03L657.6 257.96L658.2 257.89L658.8 257.83L659.4 257.76L660 257.7L660.6 257.66L661.2 257.62" fill="none" stroke="#111" stroke-width="1.15" stroke-linejoin="round"/>
<circle cx="637.9" cy="269.2" r="23.4" fill="#fff" stroke="none"/>
<path d="M637.9 269.2L661.1 269.2M637.9 269.2L657.99 257.6M637.9 269.2L649.5 249.11M637.9 269.2L637.9 246M637.9 269.2L626.3 249.11M637.9 269.2L617.81 257.6M637.9 269.2L614.7 269.2M637.9 269.2L617.81 280.8M637.9 269.2L626.3 289.29M637.9 269.2L637.9 292.4M637.9 269.2L649.5 289.29M637.9 269.2L657.99 280.8" stroke="#aaa" stroke-width="0.35" stroke-dasharray="0.6 0.8" fill="none"/>
<circle cx="637.9" cy="269.2" r="7.73" fill="none" stroke="#aaa" stroke-width="0.35" stroke-dasharray="0.6 0.8"/>
<circle cx="637.9" cy="269.2" r="15.47" fill="none" stroke="#aaa" stroke-width="0.35" stroke-dasharray="0.6 0.8"/>
<circle cx="637.9" cy="269.2" r="23.2" fill="none" stroke="#333" stroke-width="0.6"/>
<path d="M637.9 269.2L646.9 269.2L646.46 266.42ZM637.9 269.2L651.79 264.69L649.71 260.62ZM637.9 269.2L645.18 263.91L643.19 261.92ZM637.9 269.2L642.6 262.73L640.37 261.59ZM637.9 269.2L641.14 259.21L637.9 258.7ZM637.9 269.2L637.9 261.2L635.43 261.59ZM637.9 269.2L633.73 256.36L629.96 258.28ZM637.9 269.2L632.61 261.92L630.62 263.91ZM637.9 269.2L629.41 263.03L627.91 265.96ZM637.9 269.2L628.39 266.11L627.9 269.2ZM637.9 269.2L627.4 269.2L627.91 272.44ZM637.9 269.2L627.44 272.6L629 275.67ZM637.9 269.2L621.32 281.25L625.85 285.78ZM637.9 269.2L633.2 275.67L635.43 276.81ZM637.9 269.2L633.42 282.99L637.9 283.7ZM637.9 269.2L637.9 290.7L644.54 289.65ZM637.9 269.2L640.37 276.81L642.6 275.67ZM637.9 269.2L648.83 284.25L652.95 280.13ZM637.9 269.2L649.47 277.61L651.5 273.62ZM637.9 269.2L646.46 271.98L646.9 269.2Z" fill="none" stroke="#111" stroke-width="0.7" stroke-linejoin="miter"/>
<circle cx="637.9" cy="269.2" r="1.9" fill="#000"/>
<circle cx="637.9" cy="269.2" r="3.4" fill="#111" opacity="0.3"/>
<text x="637" y="245" font-size="6.3" text-anchor="middle" fill="#000">90</text>
<text x="657.2" y="252" font-size="6.3" text-anchor="middle" fill="#000">0.1</text>
<text x="612.7" y="271.4" font-size="6.3" text-anchor="end" fill="#000">180</text>
<text x="664.7" y="271.4" font-size="6.3" text-anchor="start" fill="#000">0</text>
<text x="644.2" y="297.7" font-size="6.4" text-anchor="middle" fill="#000">270</text>
<rect x="384" y="245.7" width="277.7" height="51.5" fill="none" stroke="#555" stroke-width="0.85"/>
<path d="M384 297.2v-2.0M384 245.7v2.0M411.77 297.2v-2.0M411.77 245.7v2.0M439.54 297.2v-2.0M439.54 245.7v2.0M467.31 297.2v-2.0M467.31 245.7v2.0M495.08 297.2v-2.0M495.08 245.7v2.0M522.85 297.2v-2.0M522.85 245.7v2.0M550.62 297.2v-2.0M550.62 245.7v2.0M578.39 297.2v-2.0M578.39 245.7v2.0M606.16 297.2v-2.0M606.16 245.7v2.0M633.93 297.2v-2.0M633.93 245.7v2.0M661.7 297.2v-2.0M661.7 245.7v2.0" stroke="#222" stroke-width="0.75" fill="none"/>
<path d="M384 271.4h2.0M661.7 271.4h-2.0" stroke="#222" stroke-width="0.75" fill="none"/>
<text x="382.8" y="303.9" font-size="5.4" text-anchor="middle" fill="#000">&#8722;50</text>
<text x="410.57" y="303.9" font-size="5.4" text-anchor="middle" fill="#000">&#8722;40</text>
<text x="438.34" y="303.9" font-size="5.4" text-anchor="middle" fill="#000">&#8722;30</text>
<text x="466.11" y="303.9" font-size="5.4" text-anchor="middle" fill="#000">&#8722;20</text>
<text x="493.88" y="303.9" font-size="5.4" text-anchor="middle" fill="#000">&#8722;10</text>
<text x="522.85" y="303.9" font-size="5.4" text-anchor="middle" fill="#000">0</text>
<text x="550.62" y="303.9" font-size="5.4" text-anchor="middle" fill="#000">10</text>
<text x="578.39" y="303.9" font-size="5.4" text-anchor="middle" fill="#000">20</text>
<text x="606.16" y="303.9" font-size="5.4" text-anchor="middle" fill="#000">30</text>
<text x="633.93" y="303.9" font-size="5.4" text-anchor="middle" fill="#000">40</text>
<text x="661.7" y="303.9" font-size="5.4" text-anchor="middle" fill="#000">50</text>
<text x="381.6" y="273.3" font-size="5.4" text-anchor="end" fill="#000">50</text>
<text x="521.85" y="311.8" font-size="7.5" text-anchor="middle" fill="#000">lags (msec)</text>
<text transform="translate(359,271) rotate(-90)" font-size="7.7" text-anchor="middle" fill="#000">Pyramidal</text>
<text transform="translate(367.1,271.2) rotate(-90)" font-size="7.7" text-anchor="middle" fill="#000">Histogram</text>
<path d="M40.68 374.5v-0.9h1.79v0.9zM42.67 374.5v-1.34h1.79v1.34zM44.66 374.5v-2.42h1.79v2.42zM46.65 374.5v-3.76h1.79v3.76zM48.64 374.5v-5.11h1.79v5.11zM50.63 374.5v-6.78h1.79v6.78zM52.62 374.5v-5.7h1.79v5.7zM54.61 374.5v-5.27h1.79v5.27zM56.6 374.5v-5.49h1.79v5.49zM58.59 374.5v-7.41h1.79v7.41zM60.58 374.5v-8.94h1.79v8.94zM62.57 374.5v-9.14h1.79v9.14zM64.56 374.5v-9.02h1.79v9.02zM66.55 374.5v-9.16h1.79v9.16zM68.54 374.5v-8.6h1.79v8.6zM70.53 374.5v-8.59h1.79v8.59zM72.52 374.5v-7.9h1.79v7.9zM74.51 374.5v-7.26h1.79v7.26zM76.5 374.5v-8.6h1.79v8.6zM78.49 374.5v-10.41h1.79v10.41zM80.48 374.5v-11.89h1.79v11.89zM82.47 374.5v-11.62h1.79v11.62zM84.46 374.5v-10.2h1.79v10.2zM86.45 374.5v-10.56h1.79v10.56zM88.44 374.5v-9.37h1.79v9.37zM90.43 374.5v-10.36h1.79v10.36zM92.42 374.5v-8.13h1.79v8.13zM94.41 374.5v-8.65h1.79v8.65zM96.4 374.5v-9.62h1.79v9.62zM98.39 374.5v-9.62h1.79v9.62zM100.38 374.5v-8.85h1.79v8.85zM102.37 374.5v-8.13h1.79v8.13zM104.36 374.5v-7.62h1.79v7.62zM106.35 374.5v-7.21h1.79v7.21zM108.34 374.5v-7.82h1.79v7.82zM110.33 374.5v-8.81h1.79v8.81zM112.32 374.5v-10.08h1.79v10.08zM114.31 374.5v-12.5h1.79v12.5zM116.3 374.5v-13.89h1.79v13.89zM118.29 374.5v-14.15h1.79v14.15zM120.28 374.5v-13.73h1.79v13.73zM122.27 374.5v-11.92h1.79v11.92zM124.26 374.5v-7.23h1.79v7.23zM126.25 374.5v-4.68h1.79v4.68zM128.24 374.5v-4.1h1.79v4.1zM130.23 374.5v-5.28h1.79v5.28zM132.22 374.5v-7.32h1.79v7.32zM134.21 374.5v-8.02h1.79v8.02zM136.2 374.5v-7.94h1.79v7.94zM138.19 374.5v-11.47h1.79v11.47zM140.18 374.5v-9.28h1.79v9.28zM142.17 374.5v-8.67h1.79v8.67zM144.16 374.5v-9.16h1.79v9.16zM146.15 374.5v-10.07h1.79v10.07zM148.14 374.5v-10.64h1.79v10.64zM150.13 374.5v-10.39h1.79v10.39zM152.12 374.5v-11.92h1.79v11.92zM154.11 374.5v-14.8h1.79v14.8zM156.1 374.5v-14h1.79v14zM158.09 374.5v-10.18h1.79v10.18zM160.08 374.5v-7.82h1.79v7.82zM162.07 374.5v-7.17h1.79v7.17zM164.06 374.5v-6.56h1.79v6.56zM166.05 374.5v-5.41h1.79v5.41zM168.04 374.5v-6.14h1.79v6.14zM170.03 374.5v-8.13h1.79v8.13zM172.02 374.5v-10.23h1.79v10.23zM174.01 374.5v-11.94h1.79v11.94zM176 374.5v-11.78h1.79v11.78zM177.99 374.5v-9.3h1.79v9.3zM179.98 374.5v-9.3h1.79v9.3zM181.97 374.5v-9.9h1.79v9.9zM183.96 374.5v-11.36h1.79v11.36zM185.95 374.5v-15.04h1.79v15.04zM187.94 374.5v-16.86h1.79v16.86zM189.93 374.5v-18.34h1.79v18.34zM191.92 374.5v-14.57h1.79v14.57zM193.91 374.5v-13.99h1.79v13.99zM195.9 374.5v-11.8h1.79v11.8zM197.89 374.5v-12.17h1.79v12.17zM199.88 374.5v-13h1.79v13zM201.87 374.5v-12.92h1.79v12.92zM203.86 374.5v-12.11h1.79v12.11zM205.85 374.5v-13.97h1.79v13.97zM207.84 374.5v-19.97h1.79v19.97zM209.83 374.5v-26.61h1.79v26.61zM211.82 374.5v-30.88h1.79v30.88zM213.81 374.5v-28.78h1.79v28.78zM215.8 374.5v-22.07h1.79v22.07zM217.79 374.5v-19h1.79v19zM219.78 374.5v-22.68h1.79v22.68zM221.77 374.5v-27.04h1.79v27.04zM223.76 374.5v-29.56h1.79v29.56zM225.75 374.5v-28.21h1.79v28.21zM227.74 374.5v-26.51h1.79v26.51zM229.73 374.5v-22.57h1.79v22.57zM231.72 374.5v-28.39h1.79v28.39zM233.71 374.5v-33.48h1.79v33.48zM235.7 374.5v-40.16h1.79v40.16zM237.69 374.5v-34.82h1.79v34.82zM239.68 374.5v-24.3h1.79v24.3zM241.67 374.5v-19.54h1.79v19.54zM243.66 374.5v-19.41h1.79v19.41zM245.65 374.5v-22.17h1.79v22.17zM247.64 374.5v-24.46h1.79v24.46zM249.63 374.5v-21.6h1.79v21.6zM251.62 374.5v-20.38h1.79v20.38zM253.61 374.5v-18.2h1.79v18.2zM255.6 374.5v-16.52h1.79v16.52zM257.59 374.5v-14.2h1.79v14.2zM259.58 374.5v-15.46h1.79v15.46zM261.57 374.5v-16.93h1.79v16.93zM263.56 374.5v-17.1h1.79v17.1zM265.55 374.5v-12.43h1.79v12.43zM267.54 374.5v-11.78h1.79v11.78zM269.53 374.5v-10.78h1.79v10.78zM271.52 374.5v-9.8h1.79v9.8zM273.51 374.5v-9.86h1.79v9.86zM275.5 374.5v-10.14h1.79v10.14zM277.49 374.5v-9.11h1.79v9.11zM279.48 374.5v-8.12h1.79v8.12zM281.47 374.5v-7.99h1.79v7.99zM283.46 374.5v-9.8h1.79v9.8zM285.45 374.5v-8.53h1.79v8.53zM287.44 374.5v-5.56h1.79v5.56zM289.43 374.5v-4.32h1.79v4.32zM291.42 374.5v-2.97h1.79v2.97zM293.41 374.5v-2.16h1.79v2.16zM295.4 374.5v-1.7h1.79v1.7zM297.39 374.5v-1.34h1.79v1.34zM299.38 374.5v-1.03h1.79v1.03zM301.37 374.5v-0.59h1.79v0.59z" fill="#8c8c8c"/>
<path d="M44.66 374.5v-0.52h1.79v0.52zM46.65 374.5v-0.86h1.79v0.86zM48.64 374.5v-0.93h1.79v0.93zM50.63 374.5v-1.28h1.79v1.28zM52.62 374.5v-0.87h1.79v0.87zM54.61 374.5v-1.04h1.79v1.04zM56.6 374.5v-1.33h1.79v1.33zM58.59 374.5v-1.54h1.79v1.54zM60.58 374.5v-1.38h1.79v1.38zM62.57 374.5v-1.7h1.79v1.7zM64.56 374.5v-1.91h1.79v1.91zM66.55 374.5v-1.91h1.79v1.91zM68.54 374.5v-1.95h1.79v1.95zM70.53 374.5v-1.96h1.79v1.96zM72.52 374.5v-1.55h1.79v1.55zM74.51 374.5v-2.97h1.79v2.97zM76.5 374.5v-2.51h1.79v2.51zM78.49 374.5v-3.18h1.79v3.18zM80.48 374.5v-2.53h1.79v2.53zM82.47 374.5v-2.6h1.79v2.6zM84.46 374.5v-3.55h1.79v3.55zM86.45 374.5v-3.12h1.79v3.12zM88.44 374.5v-3.05h1.79v3.05zM90.43 374.5v-3.14h1.79v3.14zM92.42 374.5v-2.61h1.79v2.61zM94.41 374.5v-2.13h1.79v2.13zM96.4 374.5v-1.77h1.79v1.77zM98.39 374.5v-1.56h1.79v1.56zM100.38 374.5v-1.56h1.79v1.56zM102.37 374.5v-1.51h1.79v1.51zM104.36 374.5v-1.83h1.79v1.83zM106.35 374.5v-1.72h1.79v1.72zM108.34 374.5v-2.44h1.79v2.44zM110.33 374.5v-3.66h1.79v3.66zM112.32 374.5v-5.18h1.79v5.18zM114.31 374.5v-5.11h1.79v5.11zM116.3 374.5v-3.56h1.79v3.56zM118.29 374.5v-3.68h1.79v3.68zM120.28 374.5v-2.37h1.79v2.37zM122.27 374.5v-1.91h1.79v1.91zM124.26 374.5v-2.13h1.79v2.13zM126.25 374.5v-2.24h1.79v2.24zM128.24 374.5v-2.54h1.79v2.54zM130.23 374.5v-2.28h1.79v2.28zM132.22 374.5v-3.19h1.79v3.19zM134.21 374.5v-2.7h1.79v2.7zM136.2 374.5v-4.06h1.79v4.06zM138.19 374.5v-4.41h1.79v4.41zM140.18 374.5v-5.04h1.79v5.04zM142.17 374.5v-4.89h1.79v4.89zM144.16 374.5v-7.19h1.79v7.19zM146.15 374.5v-4.11h1.79v4.11zM148.14 374.5v-3.86h1.79v3.86zM150.13 374.5v-3.78h1.79v3.78zM152.12 374.5v-3.58h1.79v3.58zM154.11 374.5v-2.97h1.79v2.97zM156.1 374.5v-2.57h1.79v2.57zM158.09 374.5v-2.84h1.79v2.84zM160.08 374.5v-5.08h1.79v5.08zM162.07 374.5v-3.61h1.79v3.61zM164.06 374.5v-3.58h1.79v3.58zM166.05 374.5v-3.45h1.79v3.45zM168.04 374.5v-3.56h1.79v3.56zM170.03 374.5v-2.83h1.79v2.83zM172.02 374.5v-2.62h1.79v2.62zM174.01 374.5v-2.24h1.79v2.24zM176 374.5v-4.56h1.79v4.56zM177.99 374.5v-5.75h1.79v5.75zM179.98 374.5v-2.73h1.79v2.73zM181.97 374.5v-2.42h1.79v2.42zM183.96 374.5v-2.05h1.79v2.05zM185.95 374.5v-1.89h1.79v1.89zM187.94 374.5v-1.84h1.79v1.84zM189.93 374.5v-2.76h1.79v2.76zM191.92 374.5v-1.98h1.79v1.98zM193.91 374.5v-2.9h1.79v2.9zM195.9 374.5v-2.25h1.79v2.25zM197.89 374.5v-2.65h1.79v2.65zM199.88 374.5v-2.01h1.79v2.01zM201.87 374.5v-2.74h1.79v2.74zM203.86 374.5v-2.15h1.79v2.15zM205.85 374.5v-2.28h1.79v2.28zM207.84 374.5v-2.46h1.79v2.46zM209.83 374.5v-2.01h1.79v2.01zM211.82 374.5v-2.17h1.79v2.17zM213.81 374.5v-2.8h1.79v2.8zM215.8 374.5v-2.22h1.79v2.22zM217.79 374.5v-2.34h1.79v2.34zM219.78 374.5v-2.78h1.79v2.78zM221.77 374.5v-2.17h1.79v2.17zM223.76 374.5v-2.14h1.79v2.14zM225.75 374.5v-2.18h1.79v2.18zM227.74 374.5v-2.37h1.79v2.37zM229.73 374.5v-2.36h1.79v2.36zM231.72 374.5v-2.69h1.79v2.69zM233.71 374.5v-2.5h1.79v2.5zM235.7 374.5v-3.31h1.79v3.31zM237.69 374.5v-2.55h1.79v2.55zM239.68 374.5v-2.72h1.79v2.72zM241.67 374.5v-2.9h1.79v2.9zM243.66 374.5v-2.19h1.79v2.19zM245.65 374.5v-1.93h1.79v1.93zM247.64 374.5v-2.38h1.79v2.38zM249.63 374.5v-2h1.79v2zM251.62 374.5v-2.37h1.79v2.37zM253.61 374.5v-2.63h1.79v2.63zM255.6 374.5v-1.93h1.79v1.93zM257.59 374.5v-1.94h1.79v1.94zM259.58 374.5v-2.31h1.79v2.31zM261.57 374.5v-1.97h1.79v1.97zM263.56 374.5v-2.01h1.79v2.01zM265.55 374.5v-2.21h1.79v2.21zM267.54 374.5v-1.86h1.79v1.86zM269.53 374.5v-1.79h1.79v1.79zM271.52 374.5v-2.08h1.79v2.08zM273.51 374.5v-2.17h1.79v2.17zM275.5 374.5v-2.62h1.79v2.62zM277.49 374.5v-2.22h1.79v2.22zM279.48 374.5v-1.69h1.79v1.69zM281.47 374.5v-1.63h1.79v1.63zM283.46 374.5v-1.82h1.79v1.82zM285.45 374.5v-1.44h1.79v1.44zM287.44 374.5v-1.37h1.79v1.37zM289.43 374.5v-1.14h1.79v1.14zM291.42 374.5v-0.83h1.79v0.83zM293.41 374.5v-0.4h1.79v0.4z" fill="#111"/>
<path d="M33.4 347.3L60 346.9L90 346.7L120 346.9L150 347L180 346.8L186 346.5L193 345.8L200 345L207 343.5L214.6 340L222 336L229.4 331.8L236.1 328.1L236.6 323.3L237.1 328.3L244.2 331.1L251.5 334L255 334.9L262.4 337.6L269.8 340.6L277.2 343.2L284.6 345.3L293.4 346.8L299.3 347.2L311.2 347.3" fill="none" stroke="#111" stroke-width="1.3" stroke-linejoin="round"/>
<rect x="33.4" y="322.5" width="278" height="52" fill="none" stroke="#555" stroke-width="0.85"/>
<path d="M37.6 374.5v-2.0M37.6 322.5v2.0M77.4 374.5v-2.0M77.4 322.5v2.0M117.2 374.5v-2.0M117.2 322.5v2.0M157 374.5v-2.0M157 322.5v2.0M196.8 374.5v-2.0M196.8 322.5v2.0M236.6 374.5v-2.0M236.6 322.5v2.0M276.4 374.5v-2.0M276.4 322.5v2.0" stroke="#222" stroke-width="0.75" fill="none"/>
<path d="M33.4 374.5h2.0M311.4 374.5h-2.0M33.4 357.2h2.0M311.4 357.2h-2.0M33.4 339.9h2.0M311.4 339.9h-2.0M33.4 322.6h2.0M311.4 322.6h-2.0" stroke="#222" stroke-width="0.75" fill="none"/>
<text x="36.1" y="380.9" font-size="5.7" text-anchor="middle" fill="#000">&#8722;1000</text>
<text x="75.9" y="380.9" font-size="5.7" text-anchor="middle" fill="#000">&#8722;800</text>
<text x="115.7" y="380.9" font-size="5.7" text-anchor="middle" fill="#000">&#8722;600</text>
<text x="155.5" y="380.9" font-size="5.7" text-anchor="middle" fill="#000">&#8722;400</text>
<text x="195.3" y="380.9" font-size="5.7" text-anchor="middle" fill="#000">&#8722;200</text>
<text x="236.6" y="380.9" font-size="5.7" text-anchor="middle" fill="#000">0</text>
<text x="276.4" y="380.9" font-size="5.7" text-anchor="middle" fill="#000">200</text>
<text x="32.2" y="376.4" font-size="5.6" text-anchor="end" fill="#000">0</text>
<text x="32.2" y="359.1" font-size="5.6" text-anchor="end" fill="#000">400</text>
<text x="32.2" y="341.8" font-size="5.6" text-anchor="end" fill="#000">800</text>
<text x="32.2" y="324.5" font-size="5.6" text-anchor="end" fill="#000">1200</text>
<text x="169.1" y="388.3" font-size="7.5" text-anchor="middle" fill="#000">lags(msec)</text>
<text transform="translate(7.2,348) rotate(-90)" font-size="7.7" text-anchor="middle" fill="#000">Pyramidal</text>
<text transform="translate(15.5,348) rotate(-90)" font-size="7.7" text-anchor="middle" fill="#000">Histogram</text>
<path d="M390.68 374v-0.8h1.79v0.8zM392.67 374v-1.88h1.79v1.88zM394.66 374v-2.88h1.79v2.88zM396.65 374v-4.11h1.79v4.11zM398.63 374v-5.4h1.79v5.4zM400.62 374v-6.97h1.79v6.97zM402.61 374v-6.65h1.79v6.65zM404.6 374v-6.01h1.79v6.01zM406.59 374v-5.9h1.79v5.9zM408.57 374v-8.31h1.79v8.31zM410.56 374v-8.9h1.79v8.9zM412.55 374v-9.33h1.79v9.33zM414.54 374v-10.08h1.79v10.08zM416.53 374v-9.53h1.79v9.53zM418.51 374v-9.48h1.79v9.48zM420.5 374v-9.9h1.79v9.9zM422.49 374v-9.47h1.79v9.47zM424.48 374v-9.21h1.79v9.21zM426.47 374v-10.09h1.79v10.09zM428.45 374v-11.14h1.79v11.14zM430.44 374v-13.79h1.79v13.79zM432.43 374v-12.97h1.79v12.97zM434.42 374v-10.93h1.79v10.93zM436.41 374v-10.88h1.79v10.88zM438.39 374v-11.28h1.79v11.28zM440.38 374v-10.52h1.79v10.52zM442.37 374v-9.33h1.79v9.33zM444.36 374v-9.55h1.79v9.55zM446.35 374v-11.04h1.79v11.04zM448.33 374v-10.78h1.79v10.78zM450.32 374v-10.42h1.79v10.42zM452.31 374v-9.71h1.79v9.71zM454.3 374v-9.06h1.79v9.06zM456.29 374v-8.9h1.79v8.9zM458.27 374v-8.9h1.79v8.9zM460.26 374v-10.31h1.79v10.31zM462.25 374v-12.66h1.79v12.66zM464.24 374v-14.73h1.79v14.73zM466.23 374v-16.4h1.79v16.4zM468.21 374v-15.98h1.79v15.98zM470.2 374v-14.96h1.79v14.96zM472.19 374v-12.14h1.79v12.14zM474.18 374v-7.32h1.79v7.32zM476.17 374v-5.61h1.79v5.61zM478.15 374v-5.5h1.79v5.5zM480.14 374v-8.13h1.79v8.13zM482.13 374v-9.71h1.79v9.71zM484.12 374v-7.4h1.79v7.4zM486.11 374v-10.99h1.79v10.99zM488.09 374v-12.33h1.79v12.33zM490.08 374v-10.86h1.79v10.86zM492.07 374v-10.94h1.79v10.94zM494.06 374v-10.99h1.79v10.99zM496.05 374v-12.59h1.79v12.59zM498.03 374v-11.67h1.79v11.67zM500.02 374v-11.55h1.79v11.55zM502.01 374v-13.77h1.79v13.77zM504 374v-16.32h1.79v16.32zM505.99 374v-13.62h1.79v13.62zM507.97 374v-10.34h1.79v10.34zM509.96 374v-9.23h1.79v9.23zM511.95 374v-8.3h1.79v8.3zM513.94 374v-6.97h1.79v6.97zM515.93 374v-7.04h1.79v7.04zM517.91 374v-8.43h1.79v8.43zM519.9 374v-9.6h1.79v9.6zM521.89 374v-10.77h1.79v10.77zM523.88 374v-12.03h1.79v12.03zM525.87 374v-12.79h1.79v12.79zM527.85 374v-11.17h1.79v11.17zM529.84 374v-10.46h1.79v10.46zM531.83 374v-9.67h1.79v9.67zM533.82 374v-13.61h1.79v13.61zM535.81 374v-12.66h1.79v12.66zM537.79 374v-18.76h1.79v18.76zM539.78 374v-18.37h1.79v18.37zM541.77 374v-15.4h1.79v15.4zM543.76 374v-17.47h1.79v17.47zM545.75 374v-14.18h1.79v14.18zM547.73 374v-10.66h1.79v10.66zM549.72 374v-14.2h1.79v14.2zM551.71 374v-13.54h1.79v13.54zM553.7 374v-12.39h1.79v12.39zM555.69 374v-14.39h1.79v14.39zM557.67 374v-20.79h1.79v20.79zM559.66 374v-25.52h1.79v25.52zM561.65 374v-31.49h1.79v31.49zM563.64 374v-29.55h1.79v29.55zM565.63 374v-24.31h1.79v24.31zM567.61 374v-20.7h1.79v20.7zM569.6 374v-22.8h1.79v22.8zM571.59 374v-26.41h1.79v26.41zM573.58 374v-30.23h1.79v30.23zM575.57 374v-30.81h1.79v30.81zM577.55 374v-28.55h1.79v28.55zM579.54 374v-25.59h1.79v25.59zM581.53 374v-29.42h1.79v29.42zM583.52 374v-34.9h1.79v34.9zM585.51 374v-38.78h1.79v38.78zM587.49 374v-36.99h1.79v36.99zM589.48 374v-29.71h1.79v29.71zM591.47 374v-21.28h1.79v21.28zM593.46 374v-19.73h1.79v19.73zM595.45 374v-24.55h1.79v24.55zM597.43 374v-26.54h1.79v26.54zM599.42 374v-22.17h1.79v22.17zM601.41 374v-21.6h1.79v21.6zM603.4 374v-20.51h1.79v20.51zM605.39 374v-18.58h1.79v18.58zM607.37 374v-17.01h1.79v17.01zM609.36 374v-16.52h1.79v16.52zM611.35 374v-18.5h1.79v18.5zM613.34 374v-14.86h1.79v14.86zM615.33 374v-12.9h1.79v12.9zM617.31 374v-13.62h1.79v13.62zM619.3 374v-11.99h1.79v11.99zM621.29 374v-10.86h1.79v10.86zM623.28 374v-11.79h1.79v11.79zM625.27 374v-10.8h1.79v10.8zM627.25 374v-10.73h1.79v10.73zM629.24 374v-8.1h1.79v8.1zM631.23 374v-8.45h1.79v8.45zM633.22 374v-10.9h1.79v10.9zM635.21 374v-9.1h1.79v9.1zM637.19 374v-5.9h1.79v5.9zM639.18 374v-5.35h1.79v5.35zM641.17 374v-3.34h1.79v3.34zM643.16 374v-2.29h1.79v2.29zM645.15 374v-1.75h1.79v1.75zM647.13 374v-1.65h1.79v1.65zM649.12 374v-1.51h1.79v1.51zM651.11 374v-0.86h1.79v0.86zM653.1 374v-0.55h1.79v0.55zM655.09 374v-0.4h1.79v0.4z" fill="#8c8c8c"/>
<path d="M420.5 374v-0.5h1.79v0.5zM422.49 374v-0.73h1.79v0.73zM424.48 374v-0.86h1.79v0.86zM426.47 374v-0.83h1.79v0.83zM428.45 374v-1.14h1.79v1.14zM430.44 374v-0.85h1.79v0.85zM432.43 374v-0.79h1.79v0.79zM434.42 374v-0.87h1.79v0.87zM436.41 374v-1.17h1.79v1.17zM438.39 374v-0.96h1.79v0.96zM440.38 374v-1.08h1.79v1.08zM442.37 374v-0.78h1.79v0.78zM444.36 374v-0.95h1.79v0.95zM446.35 374v-0.89h1.79v0.89zM448.33 374v-0.84h1.79v0.84zM450.32 374v-1.05h1.79v1.05zM452.31 374v-0.91h1.79v0.91zM454.3 374v-0.8h1.79v0.8zM456.29 374v-1.19h1.79v1.19zM458.27 374v-0.97h1.79v0.97zM460.26 374v-0.83h1.79v0.83zM462.25 374v-0.75h1.79v0.75zM464.24 374v-1.04h1.79v1.04zM466.23 374v-0.98h1.79v0.98zM468.21 374v-0.76h1.79v0.76zM470.2 374v-0.96h1.79v0.96zM472.19 374v-1.08h1.79v1.08zM474.18 374v-0.99h1.79v0.99zM476.17 374v-0.86h1.79v0.86zM478.15 374v-0.97h1.79v0.97zM480.14 374v-1.02h1.79v1.02zM482.13 374v-1.04h1.79v1.04zM484.12 374v-0.82h1.79v0.82zM486.11 374v-1.11h1.79v1.11zM488.09 374v-1.18h1.79v1.18zM490.08 374v-1.08h1.79v1.08zM492.07 374v-1.14h1.79v1.14zM494.06 374v-0.92h1.79v0.92zM496.05 374v-1.16h1.79v1.16zM498.03 374v-0.83h1.79v0.83zM500.02 374v-0.85h1.79v0.85zM502.01 374v-1.02h1.79v1.02zM504 374v-1.16h1.79v1.16zM505.99 374v-0.79h1.79v0.79zM507.97 374v-0.85h1.79v0.85zM509.96 374v-0.77h1.79v0.77zM511.95 374v-0.95h1.79v0.95zM513.94 374v-0.81h1.79v0.81zM515.93 374v-0.84h1.79v0.84zM517.91 374v-1.09h1.79v1.09zM519.9 374v-1.01h1.79v1.01zM521.89 374v-1.17h1.79v1.17zM523.88 374v-0.93h1.79v0.93zM525.87 374v-1.06h1.79v1.06zM527.85 374v-0.76h1.79v0.76zM529.84 374v-1.06h1.79v1.06zM531.83 374v-0.53h1.79v0.53zM533.82 374v-0.33h1.79v0.33z" fill="#111"/>
<path d="M384 345.3L400 345L420 344.5L440 344.4L460 344.8L480 345L500 345L520 344.8L535 344.3L549.8 343.3L557.2 341.8L564.6 338.9L572 334.8L579.4 330.6L585.9 326.9L586.4 321.8L586.9 327L594.1 329.6L601.5 332.1L605 333.3L612.4 336.3L619.8 338.9L627.2 341.4L634.6 343.6L643.4 345.1L649.3 345.4L661.5 345.4" fill="none" stroke="#111" stroke-width="1.3" stroke-linejoin="round"/>
<rect x="384" y="321.7" width="277.5" height="52.3" fill="none" stroke="#555" stroke-width="0.85"/>
<path d="M387.6 374v-2.0M387.6 321.7v2.0M427.36 374v-2.0M427.36 321.7v2.0M467.12 374v-2.0M467.12 321.7v2.0M506.88 374v-2.0M506.88 321.7v2.0M546.64 374v-2.0M546.64 321.7v2.0M586.4 374v-2.0M586.4 321.7v2.0M626.16 374v-2.0M626.16 321.7v2.0" stroke="#222" stroke-width="0.75" fill="none"/>
<path d="M384 374h2.0M661.5 374h-2.0M384 359.6h2.0M661.5 359.6h-2.0M384 345.2h2.0M661.5 345.2h-2.0M384 330.9h2.0M661.5 330.9h-2.0" stroke="#222" stroke-width="0.75" fill="none"/>
<text x="386.1" y="380.9" font-size="5.7" text-anchor="middle" fill="#000">&#8722;1000</text>
<text x="425.86" y="380.9" font-size="5.7" text-anchor="middle" fill="#000">&#8722;800</text>
<text x="465.62" y="380.9" font-size="5.7" text-anchor="middle" fill="#000">&#8722;600</text>
<text x="505.38" y="380.9" font-size="5.7" text-anchor="middle" fill="#000">&#8722;400</text>
<text x="545.14" y="380.9" font-size="5.7" text-anchor="middle" fill="#000">&#8722;200</text>
<text x="586.4" y="380.9" font-size="5.7" text-anchor="middle" fill="#000">0</text>
<text x="626.16" y="380.9" font-size="5.7" text-anchor="middle" fill="#000">200</text>
<text x="382.2" y="375.9" font-size="5.6" text-anchor="end" fill="#000">0</text>
<text x="382.2" y="361.5" font-size="5.6" text-anchor="end" fill="#000">500</text>
<text x="382.2" y="347.1" font-size="5.6" text-anchor="end" fill="#000">1000</text>
<text x="382.2" y="332.8" font-size="5.6" text-anchor="end" fill="#000">1500</text>
<text x="518" y="389.6" font-size="7.5" text-anchor="middle" fill="#000">lags (msec)</text>
<text transform="translate(357.6,347.6) rotate(-90)" font-size="7.7" text-anchor="middle" fill="#000">Pyramidal</text>
<text transform="translate(366,347.6) rotate(-90)" font-size="7.7" text-anchor="middle" fill="#000">Histogram</text>
</svg>
</body></html>
